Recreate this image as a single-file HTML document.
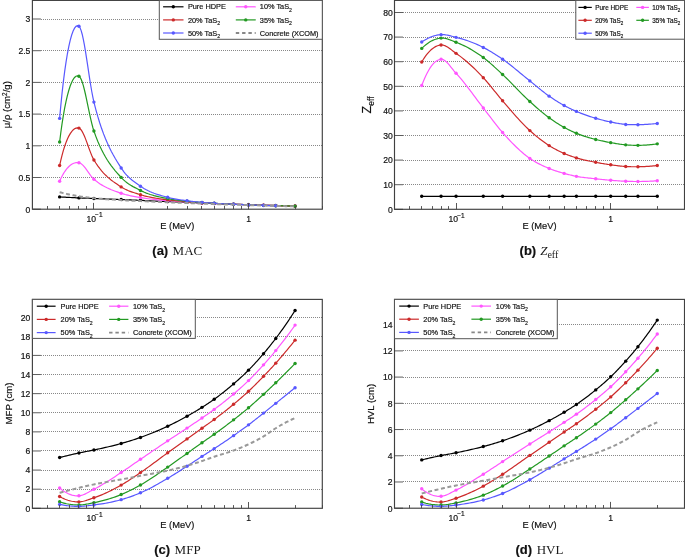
<!DOCTYPE html>
<html><head><meta charset="utf-8"><style>
html,body{margin:0;padding:0;background:#fff;width:685px;height:557px;overflow:hidden}
svg{display:block;will-change:transform}
text{fill:#111;stroke:#111;stroke-width:0.18px}
text.serif{stroke:none;fill:#1a1a1a}
</style></head><body>
<svg width="685" height="557" viewBox="0 0 685 557">
<rect x="0" y="0" width="685" height="557" fill="#fff"/>
<line x1="41.00" y1="177.50" x2="322.30" y2="177.50" stroke="#888" stroke-width="1" stroke-dasharray="1 1"/>
<line x1="41.00" y1="145.50" x2="322.30" y2="145.50" stroke="#888" stroke-width="1" stroke-dasharray="1 1"/>
<line x1="41.00" y1="114.50" x2="322.30" y2="114.50" stroke="#888" stroke-width="1" stroke-dasharray="1 1"/>
<line x1="41.00" y1="82.50" x2="322.30" y2="82.50" stroke="#888" stroke-width="1" stroke-dasharray="1 1"/>
<line x1="41.00" y1="50.50" x2="322.30" y2="50.50" stroke="#888" stroke-width="1" stroke-dasharray="1 1"/>
<line x1="41.00" y1="19.50" x2="322.30" y2="19.50" stroke="#888" stroke-width="1" stroke-dasharray="1 1"/>
<polyline points="59.63,196.90 61.00,196.98 62.38,197.06 63.76,197.14 65.14,197.22 66.52,197.30 67.90,197.37 69.28,197.45 70.66,197.52 72.04,197.59 73.42,197.66 74.80,197.72 76.18,197.79 77.56,197.85 78.94,197.91 80.01,197.96 81.08,198.01 82.15,198.05 83.22,198.09 84.29,198.13 85.36,198.17 86.43,198.21 87.50,198.25 88.57,198.29 89.64,198.33 90.71,198.37 91.78,198.40 92.85,198.44 93.92,198.49 95.87,198.56 97.81,198.64 99.76,198.71 101.70,198.79 103.65,198.86 105.59,198.94 107.54,199.01 109.48,199.09 111.43,199.17 113.37,199.25 115.32,199.32 117.26,199.40 119.21,199.48 121.15,199.56 122.53,199.62 123.91,199.68 125.29,199.74 126.67,199.79 128.05,199.85 129.43,199.91 130.81,199.97 132.19,200.03 133.57,200.09 134.95,200.15 136.33,200.21 137.71,200.27 139.09,200.33 140.47,200.39 142.41,200.47 144.36,200.56 146.30,200.64 148.25,200.73 150.19,200.82 152.13,200.90 154.08,200.99 156.02,201.08 157.97,201.16 159.91,201.25 161.86,201.34 163.80,201.42 165.75,201.51 167.69,201.59 169.07,201.65 170.45,201.71 171.83,201.77 173.21,201.83 174.59,201.89 175.97,201.95 177.35,202.01 178.73,202.07 180.11,202.13 181.49,202.19 182.87,202.24 184.25,202.30 185.63,202.36 187.01,202.42 188.08,202.46 189.15,202.50 190.22,202.55 191.29,202.59 192.36,202.63 193.43,202.68 194.50,202.72 195.57,202.76 196.64,202.80 197.71,202.85 198.78,202.89 199.85,202.93 200.92,202.97 201.99,203.01 202.87,203.05 203.74,203.08 204.61,203.11 205.49,203.15 206.36,203.18 207.24,203.21 208.11,203.25 208.99,203.28 209.86,203.31 210.74,203.34 211.61,203.38 212.48,203.41 213.36,203.44 214.23,203.47 215.61,203.53 216.99,203.58 218.37,203.63 219.75,203.68 221.13,203.73 222.51,203.78 223.89,203.83 225.27,203.88 226.65,203.93 228.03,203.98 229.41,204.03 230.79,204.08 232.17,204.13 233.55,204.18 234.62,204.22 235.69,204.25 236.76,204.29 237.83,204.33 238.90,204.36 239.97,204.40 241.04,204.43 242.11,204.47 243.18,204.50 244.25,204.54 245.32,204.57 246.39,204.61 247.46,204.64 248.53,204.68 249.60,204.71 250.67,204.75 251.74,204.78 252.81,204.82 253.88,204.85 254.95,204.89 256.02,204.92 257.09,204.96 258.16,204.99 259.24,205.03 260.31,205.06 261.38,205.10 262.45,205.13 263.52,205.16 264.39,205.19 265.26,205.21 266.14,205.24 267.01,205.27 267.89,205.29 268.76,205.32 269.64,205.35 270.51,205.37 271.39,205.40 272.26,205.42 273.13,205.45 274.01,205.47 274.88,205.50 275.76,205.52 277.14,205.56 278.52,205.60 279.90,205.64 281.28,205.68 282.66,205.72 284.04,205.75 285.42,205.79 286.80,205.83 288.18,205.86 289.56,205.90 290.94,205.94 292.32,205.97 293.69,206.01 295.07,206.04" fill="none" stroke="#000000" stroke-width="1.2"/>
<circle cx="59.63" cy="196.90" r="1.7" fill="#000000"/>
<circle cx="78.94" cy="197.91" r="1.7" fill="#000000"/>
<circle cx="93.92" cy="198.49" r="1.7" fill="#000000"/>
<circle cx="121.15" cy="199.56" r="1.7" fill="#000000"/>
<circle cx="140.47" cy="200.39" r="1.7" fill="#000000"/>
<circle cx="167.69" cy="201.59" r="1.7" fill="#000000"/>
<circle cx="187.01" cy="202.42" r="1.7" fill="#000000"/>
<circle cx="201.99" cy="203.01" r="1.7" fill="#000000"/>
<circle cx="214.23" cy="203.47" r="1.7" fill="#000000"/>
<circle cx="233.55" cy="204.18" r="1.7" fill="#000000"/>
<circle cx="248.53" cy="204.68" r="1.7" fill="#000000"/>
<circle cx="263.52" cy="205.16" r="1.7" fill="#000000"/>
<circle cx="275.76" cy="205.52" r="1.7" fill="#000000"/>
<circle cx="295.07" cy="206.04" r="1.7" fill="#000000"/>
<polyline points="59.63,181.20 60.87,178.47 62.14,175.95 63.45,173.63 64.78,171.53 66.13,169.64 67.51,167.97 68.90,166.52 70.31,165.29 71.73,164.29 73.16,163.51 74.60,162.97 76.05,162.65 77.49,162.57 78.94,162.73 80.06,163.09 81.15,163.72 82.24,164.58 83.31,165.64 84.38,166.87 85.43,168.21 86.48,169.65 87.54,171.14 88.59,172.65 89.64,174.14 90.70,175.58 91.76,176.93 92.84,178.15 93.92,179.21 95.84,180.82 97.76,182.30 99.69,183.65 101.63,184.88 103.57,186.01 105.51,187.05 107.46,188.00 109.41,188.88 111.36,189.70 113.32,190.46 115.28,191.19 117.23,191.88 119.19,192.56 121.15,193.24 122.53,193.69 123.90,194.11 125.28,194.50 126.66,194.85 128.04,195.19 129.42,195.50 130.80,195.79 132.18,196.06 133.56,196.32 134.94,196.57 136.32,196.82 137.70,197.06 139.09,197.30 140.47,197.55 142.41,197.88 144.35,198.19 146.30,198.48 148.24,198.75 150.19,199.00 152.13,199.23 154.08,199.45 156.02,199.65 157.97,199.85 159.91,200.03 161.86,200.21 163.80,200.39 165.75,200.56 167.69,200.74 169.07,200.86 170.45,200.97 171.83,201.08 173.21,201.19 174.59,201.29 175.97,201.38 177.35,201.48 178.73,201.57 180.11,201.66 181.49,201.74 182.87,201.83 184.25,201.91 185.63,202.00 187.01,202.08 188.08,202.14 189.15,202.21 190.22,202.27 191.29,202.33 192.36,202.39 193.43,202.44 194.50,202.50 195.57,202.56 196.64,202.61 197.71,202.67 198.78,202.72 199.85,202.77 200.92,202.82 201.99,202.88 202.87,202.92 203.74,202.96 204.61,203.00 205.49,203.04 206.36,203.08 207.24,203.12 208.11,203.16 208.99,203.20 209.86,203.24 210.74,203.28 211.61,203.31 212.48,203.35 213.36,203.39 214.23,203.43 215.61,203.49 216.99,203.54 218.37,203.60 219.75,203.66 221.13,203.72 222.51,203.77 223.89,203.83 225.27,203.88 226.65,203.94 228.03,203.99 229.41,204.05 230.79,204.10 232.17,204.15 233.55,204.20 234.62,204.24 235.69,204.28 236.76,204.32 237.83,204.36 238.90,204.40 239.97,204.43 241.04,204.47 242.11,204.51 243.18,204.55 244.25,204.58 245.32,204.62 246.39,204.66 247.46,204.69 248.53,204.73 263.52,205.22 275.76,205.58 277.14,205.62 278.52,205.66 279.90,205.69 281.28,205.73 282.66,205.77 284.04,205.80 285.42,205.84 286.80,205.88 288.18,205.91 289.56,205.95 290.94,205.98 292.32,206.02 293.70,206.05 295.07,206.08" fill="none" stroke="#ff55ff" stroke-width="1.2"/>
<circle cx="59.63" cy="181.20" r="1.7" fill="#ff55ff"/>
<circle cx="78.94" cy="162.73" r="1.7" fill="#ff55ff"/>
<circle cx="93.92" cy="179.21" r="1.7" fill="#ff55ff"/>
<circle cx="121.15" cy="193.24" r="1.7" fill="#ff55ff"/>
<circle cx="140.47" cy="197.55" r="1.7" fill="#ff55ff"/>
<circle cx="167.69" cy="200.74" r="1.7" fill="#ff55ff"/>
<circle cx="187.01" cy="202.08" r="1.7" fill="#ff55ff"/>
<circle cx="201.99" cy="202.88" r="1.7" fill="#ff55ff"/>
<circle cx="214.23" cy="203.43" r="1.7" fill="#ff55ff"/>
<circle cx="233.55" cy="204.20" r="1.7" fill="#ff55ff"/>
<circle cx="248.53" cy="204.73" r="1.7" fill="#ff55ff"/>
<circle cx="263.52" cy="205.22" r="1.7" fill="#ff55ff"/>
<circle cx="275.76" cy="205.58" r="1.7" fill="#ff55ff"/>
<circle cx="295.07" cy="206.08" r="1.7" fill="#ff55ff"/>
<polyline points="59.63,165.50 60.84,160.07 62.09,155.04 63.38,150.42 64.70,146.20 66.04,142.41 67.42,139.04 68.81,136.10 70.23,133.60 71.66,131.54 73.10,129.93 74.55,128.78 76.01,128.09 77.48,127.86 78.94,128.11 80.06,128.78 81.17,129.97 82.25,131.63 83.33,133.67 84.39,136.02 85.44,138.63 86.49,141.41 87.54,144.30 88.59,147.23 89.64,150.12 90.70,152.90 91.76,155.51 92.84,157.88 93.92,159.93 95.84,163.03 97.75,165.88 99.68,168.48 101.61,170.86 103.55,173.05 105.50,175.05 107.45,176.88 109.40,178.58 111.35,180.16 113.31,181.63 115.27,183.02 117.23,184.35 119.19,185.64 121.15,186.91 122.53,187.76 123.90,188.54 125.28,189.25 126.66,189.91 128.04,190.52 129.42,191.08 130.80,191.60 132.18,192.09 133.56,192.55 134.94,193.00 136.32,193.43 137.70,193.85 139.09,194.28 140.47,194.71 142.41,195.29 144.35,195.83 146.30,196.32 148.24,196.77 150.19,197.18 152.13,197.56 154.08,197.90 156.02,198.23 157.97,198.53 159.91,198.82 161.86,199.09 163.80,199.36 165.75,199.62 167.69,199.88 169.07,200.06 170.45,200.23 171.83,200.39 173.21,200.54 174.59,200.68 175.97,200.82 177.35,200.95 178.73,201.07 180.11,201.19 181.49,201.30 182.87,201.41 184.25,201.53 185.63,201.63 187.01,201.74 188.08,201.83 189.15,201.91 190.22,201.99 191.29,202.06 192.36,202.14 193.43,202.21 194.50,202.28 195.57,202.35 196.64,202.42 197.71,202.48 198.78,202.55 199.85,202.61 200.92,202.68 201.99,202.74 202.87,202.79 203.74,202.84 204.61,202.89 205.49,202.94 206.36,202.98 207.24,203.03 208.11,203.07 208.99,203.12 209.86,203.16 210.74,203.21 211.61,203.25 212.48,203.29 213.36,203.33 214.23,203.38 215.61,203.44 216.99,203.51 218.37,203.57 219.75,203.64 221.13,203.70 222.51,203.76 223.89,203.82 225.27,203.88 226.65,203.94 228.03,204.00 229.41,204.06 230.79,204.11 232.17,204.17 233.55,204.23 248.53,204.78 263.52,205.28 275.76,205.64 295.07,206.12" fill="none" stroke="#cc2a2a" stroke-width="1.2"/>
<circle cx="59.63" cy="165.50" r="1.7" fill="#cc2a2a"/>
<circle cx="78.94" cy="128.11" r="1.7" fill="#cc2a2a"/>
<circle cx="93.92" cy="159.93" r="1.7" fill="#cc2a2a"/>
<circle cx="121.15" cy="186.91" r="1.7" fill="#cc2a2a"/>
<circle cx="140.47" cy="194.71" r="1.7" fill="#cc2a2a"/>
<circle cx="167.69" cy="199.88" r="1.7" fill="#cc2a2a"/>
<circle cx="187.01" cy="201.74" r="1.7" fill="#cc2a2a"/>
<circle cx="201.99" cy="202.74" r="1.7" fill="#cc2a2a"/>
<circle cx="214.23" cy="203.38" r="1.7" fill="#cc2a2a"/>
<circle cx="233.55" cy="204.23" r="1.7" fill="#cc2a2a"/>
<circle cx="248.53" cy="204.78" r="1.7" fill="#cc2a2a"/>
<circle cx="263.52" cy="205.28" r="1.7" fill="#cc2a2a"/>
<circle cx="275.76" cy="205.64" r="1.7" fill="#cc2a2a"/>
<circle cx="295.07" cy="206.12" r="1.7" fill="#cc2a2a"/>
<polyline points="59.63,141.96 60.82,132.48 62.06,123.69 63.34,115.60 64.65,108.22 65.99,101.56 67.37,95.64 68.76,90.47 70.18,86.06 71.62,82.42 73.07,79.56 74.53,77.49 76.00,76.24 77.47,75.80 78.94,76.19 80.07,77.31 81.17,79.35 82.26,82.19 83.33,85.70 84.40,89.76 85.45,94.26 86.50,99.06 87.54,104.04 88.59,109.09 89.64,114.08 90.69,118.89 91.76,123.39 92.83,127.47 93.92,131.01 95.83,136.35 97.75,141.24 99.68,145.73 101.61,149.83 103.55,153.59 105.49,157.04 107.44,160.21 109.39,163.13 111.35,165.84 113.31,168.38 115.27,170.77 117.23,173.05 119.19,175.26 121.15,177.42 122.53,178.86 123.90,180.18 125.28,181.39 126.66,182.50 128.04,183.51 129.42,184.45 130.80,185.32 132.18,186.13 133.56,186.90 134.94,187.63 136.32,188.34 137.70,189.04 139.09,189.74 140.47,190.45 142.41,191.41 144.35,192.28 146.30,193.07 148.24,193.79 150.19,194.45 152.13,195.04 154.08,195.59 156.02,196.09 157.97,196.56 159.91,196.99 161.86,197.41 163.80,197.81 165.75,198.20 167.69,198.60 169.07,198.87 170.45,199.12 171.83,199.35 173.21,199.57 174.59,199.78 175.97,199.97 177.35,200.15 178.73,200.32 180.11,200.48 181.49,200.64 182.87,200.79 184.25,200.94 185.63,201.09 187.01,201.24 188.08,201.35 189.15,201.46 190.22,201.57 191.29,201.67 192.36,201.77 193.43,201.86 194.50,201.95 195.57,202.04 196.64,202.13 197.71,202.21 198.78,202.30 199.85,202.38 200.92,202.46 201.99,202.54 202.87,202.60 203.74,202.66 204.61,202.72 205.49,202.78 206.36,202.84 207.24,202.89 208.11,202.94 208.99,203.00 209.86,203.05 210.74,203.10 211.61,203.15 212.48,203.20 213.36,203.25 214.23,203.30 215.61,203.38 216.99,203.46 218.37,203.53 219.75,203.61 221.13,203.68 222.51,203.75 223.89,203.82 225.27,203.88 226.65,203.95 228.03,204.01 229.41,204.08 230.79,204.14 232.17,204.20 233.55,204.26 248.53,204.85 263.52,205.37 275.76,205.72 295.07,206.18" fill="none" stroke="#229922" stroke-width="1.2"/>
<circle cx="59.63" cy="141.96" r="1.7" fill="#229922"/>
<circle cx="78.94" cy="76.19" r="1.7" fill="#229922"/>
<circle cx="93.92" cy="131.01" r="1.7" fill="#229922"/>
<circle cx="121.15" cy="177.42" r="1.7" fill="#229922"/>
<circle cx="140.47" cy="190.45" r="1.7" fill="#229922"/>
<circle cx="167.69" cy="198.60" r="1.7" fill="#229922"/>
<circle cx="187.01" cy="201.24" r="1.7" fill="#229922"/>
<circle cx="201.99" cy="202.54" r="1.7" fill="#229922"/>
<circle cx="214.23" cy="203.30" r="1.7" fill="#229922"/>
<circle cx="233.55" cy="204.26" r="1.7" fill="#229922"/>
<circle cx="248.53" cy="204.85" r="1.7" fill="#229922"/>
<circle cx="263.52" cy="205.37" r="1.7" fill="#229922"/>
<circle cx="275.76" cy="205.72" r="1.7" fill="#229922"/>
<circle cx="295.07" cy="206.18" r="1.7" fill="#229922"/>
<polyline points="59.63,118.41 60.85,105.11 62.10,92.78 63.40,81.44 64.72,71.11 66.07,61.80 67.44,53.52 68.83,46.29 70.25,40.12 71.67,35.03 73.12,31.03 74.57,28.14 76.02,26.36 77.48,25.72 78.94,26.23 80.06,27.76 81.16,30.57 82.24,34.48 83.32,39.33 84.38,44.94 85.44,51.16 86.49,57.80 87.54,64.70 88.59,71.70 89.64,78.61 90.70,85.28 91.76,91.52 92.84,97.18 93.92,102.09 95.84,109.57 97.76,116.45 99.69,122.77 101.62,128.58 103.56,133.91 105.50,138.82 107.45,143.34 109.40,147.52 111.36,151.41 113.31,155.04 115.27,158.47 117.23,161.73 119.19,164.87 121.15,167.93 122.53,169.97 123.90,171.83 125.28,173.53 126.66,175.09 128.04,176.51 129.42,177.83 130.80,179.04 132.18,180.18 133.56,181.25 134.94,182.27 136.32,183.26 137.70,184.23 139.09,185.20 140.47,186.19 142.41,187.52 144.35,188.73 146.30,189.83 148.24,190.82 150.19,191.72 152.13,192.53 154.08,193.28 156.02,193.95 157.97,194.58 159.91,195.17 161.86,195.72 163.80,196.26 165.75,196.79 167.69,197.31 169.07,197.67 170.45,198.01 171.83,198.32 173.21,198.61 174.59,198.87 175.97,199.12 177.35,199.35 178.73,199.57 180.11,199.78 181.49,199.98 182.87,200.17 184.25,200.36 185.63,200.55 187.01,200.74 188.08,200.88 189.15,201.02 190.22,201.15 191.29,201.28 192.36,201.40 193.43,201.51 194.50,201.63 195.57,201.74 196.64,201.84 197.71,201.94 198.78,202.04 199.85,202.14 200.92,202.24 201.99,202.33 202.87,202.41 203.74,202.48 204.61,202.55 205.49,202.62 206.36,202.69 207.24,202.75 208.11,202.82 208.99,202.88 209.86,202.94 210.74,203.00 211.61,203.06 212.48,203.11 213.36,203.17 214.23,203.23 215.61,203.32 216.99,203.41 218.37,203.49 219.75,203.57 221.13,203.65 222.51,203.73 223.89,203.81 225.27,203.88 226.65,203.95 228.03,204.02 229.41,204.09 230.79,204.16 232.17,204.23 233.55,204.30 248.53,204.93 263.52,205.46 275.76,205.80" fill="none" stroke="#5858ff" stroke-width="1.2"/>
<circle cx="59.63" cy="118.41" r="1.7" fill="#5858ff"/>
<circle cx="78.94" cy="26.23" r="1.7" fill="#5858ff"/>
<circle cx="93.92" cy="102.09" r="1.7" fill="#5858ff"/>
<circle cx="121.15" cy="167.93" r="1.7" fill="#5858ff"/>
<circle cx="140.47" cy="186.19" r="1.7" fill="#5858ff"/>
<circle cx="167.69" cy="197.31" r="1.7" fill="#5858ff"/>
<circle cx="187.01" cy="200.74" r="1.7" fill="#5858ff"/>
<circle cx="201.99" cy="202.33" r="1.7" fill="#5858ff"/>
<circle cx="214.23" cy="203.23" r="1.7" fill="#5858ff"/>
<circle cx="233.55" cy="204.30" r="1.7" fill="#5858ff"/>
<circle cx="248.53" cy="204.93" r="1.7" fill="#5858ff"/>
<circle cx="263.52" cy="205.46" r="1.7" fill="#5858ff"/>
<circle cx="275.76" cy="205.80" r="1.7" fill="#5858ff"/>
<polyline points="59.63,192.18 60.99,192.54 62.37,192.89 63.74,193.23 65.11,193.56 66.49,193.88 67.87,194.19 69.25,194.49 70.63,194.78 72.01,195.06 73.39,195.34 74.78,195.60 76.17,195.85 77.55,196.09 78.94,196.32 80.01,196.49 81.08,196.65 82.14,196.80 83.21,196.95 84.28,197.09 85.35,197.22 86.42,197.35 87.49,197.48 88.57,197.60 89.64,197.72 90.71,197.84 91.78,197.95 92.85,198.06 93.92,198.17 95.87,198.37 97.81,198.55 99.75,198.71 101.69,198.87 103.64,199.01 105.58,199.15 107.53,199.27 109.47,199.40 111.42,199.51 113.37,199.62 115.31,199.74 117.26,199.85 119.20,199.96 121.15,200.07 122.53,200.15 123.91,200.23 125.29,200.31 126.67,200.39 128.05,200.46 129.43,200.54 130.81,200.61 132.19,200.68 133.57,200.75 134.95,200.82 136.33,200.89 137.71,200.96 139.09,201.03 140.47,201.09 142.41,201.18 144.36,201.27 146.30,201.36 148.24,201.44 150.19,201.52 152.13,201.60 154.08,201.68 156.02,201.76 157.97,201.84 159.91,201.91 161.86,201.99 163.80,202.06 165.75,202.14 167.69,202.22 169.07,202.28 170.45,202.33 171.83,202.39 173.21,202.45 174.59,202.50 175.97,202.56 177.35,202.61 178.73,202.67 180.11,202.72 181.49,202.78 182.87,202.84 184.25,202.89 185.63,202.95 187.01,203.01 188.08,203.05 189.15,203.09 190.22,203.14 191.29,203.19 192.36,203.23 193.43,203.28 194.50,203.32 195.57,203.37 196.64,203.41 197.71,203.46 198.78,203.50 199.85,203.55 200.92,203.59 201.99,203.63 202.87,203.67 203.74,203.70 204.61,203.74 205.49,203.77 206.36,203.80 207.24,203.84 208.11,203.87 208.99,203.90 209.86,203.94 210.74,203.97 211.61,204.00 212.48,204.03 213.36,204.07 214.23,204.10 215.61,204.14 216.99,204.19 218.37,204.23 219.75,204.27 221.13,204.31 222.51,204.34 223.89,204.38 225.27,204.42 226.65,204.46 228.03,204.49 229.41,204.53 230.79,204.57 232.17,204.60 233.55,204.64 248.53,205.09 263.52,205.53 264.39,205.56 265.27,205.59 266.14,205.62 267.01,205.64 267.89,205.67 268.76,205.70 269.64,205.73 270.51,205.76 271.39,205.78 272.26,205.81 273.13,205.84 274.01,205.86 274.88,205.89 275.76,205.91 277.14,205.95 278.52,205.98 279.90,206.01 281.28,206.04 282.66,206.07 284.04,206.10 285.42,206.13 286.80,206.16 288.18,206.18 289.56,206.20 290.94,206.23 292.32,206.25 293.69,206.27 295.07,206.28" fill="none" stroke="#999" stroke-width="2" stroke-dasharray="4 2.6"/>
<rect x="32.40" y="0.40" width="289.90" height="208.80" fill="none" stroke="#404040" stroke-width="1.15"/>
<line x1="32.40" y1="209.20" x2="40.90" y2="209.20" stroke="#333" stroke-width="0.8"/>
<text x="30.40" y="212.50" text-anchor="end" style="font-family:'Liberation Sans',sans-serif;font-size:8.6px">0</text>
<line x1="32.40" y1="177.50" x2="40.90" y2="177.50" stroke="#333" stroke-width="0.8"/>
<text x="30.40" y="180.80" text-anchor="end" style="font-family:'Liberation Sans',sans-serif;font-size:8.6px">0.5</text>
<line x1="32.40" y1="145.80" x2="40.90" y2="145.80" stroke="#333" stroke-width="0.8"/>
<text x="30.40" y="149.10" text-anchor="end" style="font-family:'Liberation Sans',sans-serif;font-size:8.6px">1</text>
<line x1="32.40" y1="114.10" x2="40.90" y2="114.10" stroke="#333" stroke-width="0.8"/>
<text x="30.40" y="117.40" text-anchor="end" style="font-family:'Liberation Sans',sans-serif;font-size:8.6px">1.5</text>
<line x1="32.40" y1="82.40" x2="40.90" y2="82.40" stroke="#333" stroke-width="0.8"/>
<text x="30.40" y="85.70" text-anchor="end" style="font-family:'Liberation Sans',sans-serif;font-size:8.6px">2</text>
<line x1="32.40" y1="50.70" x2="40.90" y2="50.70" stroke="#333" stroke-width="0.8"/>
<text x="30.40" y="54.00" text-anchor="end" style="font-family:'Liberation Sans',sans-serif;font-size:8.6px">2.5</text>
<line x1="32.40" y1="19.00" x2="40.90" y2="19.00" stroke="#333" stroke-width="0.8"/>
<text x="30.40" y="22.30" text-anchor="end" style="font-family:'Liberation Sans',sans-serif;font-size:8.6px">3</text>
<line x1="32.50" y1="209.20" x2="32.50" y2="206.00" stroke="#444" stroke-width="0.9"/>
<line x1="47.50" y1="209.20" x2="47.50" y2="206.00" stroke="#444" stroke-width="0.9"/>
<line x1="59.50" y1="209.20" x2="59.50" y2="206.00" stroke="#444" stroke-width="0.9"/>
<line x1="69.50" y1="209.20" x2="69.50" y2="206.00" stroke="#444" stroke-width="0.9"/>
<line x1="78.50" y1="209.20" x2="78.50" y2="206.00" stroke="#444" stroke-width="0.9"/>
<line x1="86.50" y1="209.20" x2="86.50" y2="206.00" stroke="#444" stroke-width="0.9"/>
<line x1="93.50" y1="209.20" x2="93.50" y2="202.90" stroke="#444" stroke-width="0.9"/>
<line x1="140.50" y1="209.20" x2="140.50" y2="206.00" stroke="#444" stroke-width="0.9"/>
<line x1="167.50" y1="209.20" x2="167.50" y2="206.00" stroke="#444" stroke-width="0.9"/>
<line x1="187.50" y1="209.20" x2="187.50" y2="206.00" stroke="#444" stroke-width="0.9"/>
<line x1="201.50" y1="209.20" x2="201.50" y2="206.00" stroke="#444" stroke-width="0.9"/>
<line x1="214.50" y1="209.20" x2="214.50" y2="206.00" stroke="#444" stroke-width="0.9"/>
<line x1="224.50" y1="209.20" x2="224.50" y2="206.00" stroke="#444" stroke-width="0.9"/>
<line x1="233.50" y1="209.20" x2="233.50" y2="206.00" stroke="#444" stroke-width="0.9"/>
<line x1="241.50" y1="209.20" x2="241.50" y2="206.00" stroke="#444" stroke-width="0.9"/>
<line x1="248.50" y1="209.20" x2="248.50" y2="202.90" stroke="#444" stroke-width="0.9"/>
<line x1="295.50" y1="209.20" x2="295.50" y2="206.00" stroke="#444" stroke-width="0.9"/>
<line x1="322.50" y1="209.20" x2="322.50" y2="206.00" stroke="#444" stroke-width="0.9"/>
<text x="86.42" y="221.70" style="font-family:'Liberation Sans',sans-serif;font-size:8.6px">10</text>
<text x="95.12" y="217.40" style="font-family:'Liberation Sans',sans-serif;font-size:6.5px">&#8722;1</text>
<text x="248.53" y="221.70" text-anchor="middle" style="font-family:'Liberation Sans',sans-serif;font-size:8.6px">1</text>
<text x="177.35" y="229.00" text-anchor="middle" style="font-family:'Liberation Sans',sans-serif;font-size:9.3px">E (MeV)</text>
<text transform="translate(9.60,104.70) rotate(-90)" text-anchor="middle" style="font-family:'Liberation Sans',sans-serif;font-size:9.60px">&#956;/&#961; (cm<tspan dy="-3" style="font-size:6.5px">2</tspan><tspan dy="3">/g)</tspan></text>
<rect x="159.30" y="0.40" width="163.00" height="38.90" fill="#fff" stroke="#555" stroke-width="1"/>
<line x1="163.10" y1="6.80" x2="183.50" y2="6.80" stroke="#000000" stroke-width="1.2"/>
<circle cx="173.30" cy="6.80" r="1.7" fill="#000000"/>
<text x="187.90" y="9.45" style="font-family:'Liberation Sans',sans-serif;font-size:7.35px">Pure HDPE</text>
<line x1="235.80" y1="6.80" x2="255.70" y2="6.80" stroke="#ff55ff" stroke-width="1.2"/>
<circle cx="245.75" cy="6.80" r="1.7" fill="#ff55ff"/>
<text x="259.80" y="9.45" style="font-family:'Liberation Sans',sans-serif;font-size:7.35px">10% TaS<tspan dy="2.65" style="font-size:5.14px">2</tspan></text>
<line x1="163.10" y1="19.90" x2="183.50" y2="19.90" stroke="#cc2a2a" stroke-width="1.2"/>
<circle cx="173.30" cy="19.90" r="1.7" fill="#cc2a2a"/>
<text x="187.90" y="22.55" style="font-family:'Liberation Sans',sans-serif;font-size:7.35px">20% TaS<tspan dy="2.65" style="font-size:5.14px">2</tspan></text>
<line x1="235.80" y1="19.90" x2="255.70" y2="19.90" stroke="#229922" stroke-width="1.2"/>
<circle cx="245.75" cy="19.90" r="1.7" fill="#229922"/>
<text x="259.80" y="22.55" style="font-family:'Liberation Sans',sans-serif;font-size:7.35px">35% TaS<tspan dy="2.65" style="font-size:5.14px">2</tspan></text>
<line x1="163.10" y1="33.00" x2="183.50" y2="33.00" stroke="#5858ff" stroke-width="1.2"/>
<circle cx="173.30" cy="33.00" r="1.7" fill="#5858ff"/>
<text x="187.90" y="35.65" style="font-family:'Liberation Sans',sans-serif;font-size:7.35px">50% TaS<tspan dy="2.65" style="font-size:5.14px">2</tspan></text>
<line x1="235.80" y1="33.00" x2="255.70" y2="33.00" stroke="#888" stroke-width="1.8" stroke-dasharray="3.4 2.9"/>
<text x="259.80" y="35.65" style="font-family:'Liberation Sans',sans-serif;font-size:7.35px">Concrete (XCOM)</text>
<text x="152.30" y="255.30" style="font-family:'Liberation Sans',sans-serif;font-weight:bold;font-size:13px">(a)</text><text class="serif" x="172.60" y="255.30" style="font-family:'Liberation Serif',serif;font-size:13px">MAC</text>
<line x1="403.00" y1="184.50" x2="684.50" y2="184.50" stroke="#888" stroke-width="1" stroke-dasharray="1 1"/>
<line x1="403.00" y1="160.50" x2="684.50" y2="160.50" stroke="#888" stroke-width="1" stroke-dasharray="1 1"/>
<line x1="403.00" y1="135.50" x2="684.50" y2="135.50" stroke="#888" stroke-width="1" stroke-dasharray="1 1"/>
<line x1="403.00" y1="110.50" x2="684.50" y2="110.50" stroke="#888" stroke-width="1" stroke-dasharray="1 1"/>
<line x1="403.00" y1="86.50" x2="684.50" y2="86.50" stroke="#888" stroke-width="1" stroke-dasharray="1 1"/>
<line x1="403.00" y1="61.50" x2="684.50" y2="61.50" stroke="#888" stroke-width="1" stroke-dasharray="1 1"/>
<line x1="403.00" y1="37.50" x2="684.50" y2="37.50" stroke="#888" stroke-width="1" stroke-dasharray="1 1"/>
<line x1="403.00" y1="12.50" x2="684.50" y2="12.50" stroke="#888" stroke-width="1" stroke-dasharray="1 1"/>
<polyline points="421.73,196.31 441.06,196.31 456.05,196.31 483.28,196.31 502.60,196.31 529.84,196.31 549.16,196.31 564.15,196.31 576.40,196.31 595.72,196.31 610.71,196.31 625.70,196.31 637.94,196.31 657.27,196.31" fill="none" stroke="#000000" stroke-width="1.2"/>
<circle cx="421.73" cy="196.31" r="1.7" fill="#000000"/>
<circle cx="441.06" cy="196.31" r="1.7" fill="#000000"/>
<circle cx="456.05" cy="196.31" r="1.7" fill="#000000"/>
<circle cx="483.28" cy="196.31" r="1.7" fill="#000000"/>
<circle cx="502.60" cy="196.31" r="1.7" fill="#000000"/>
<circle cx="529.84" cy="196.31" r="1.7" fill="#000000"/>
<circle cx="549.16" cy="196.31" r="1.7" fill="#000000"/>
<circle cx="564.15" cy="196.31" r="1.7" fill="#000000"/>
<circle cx="576.40" cy="196.31" r="1.7" fill="#000000"/>
<circle cx="595.72" cy="196.31" r="1.7" fill="#000000"/>
<circle cx="610.71" cy="196.31" r="1.7" fill="#000000"/>
<circle cx="625.70" cy="196.31" r="1.7" fill="#000000"/>
<circle cx="637.94" cy="196.31" r="1.7" fill="#000000"/>
<circle cx="657.27" cy="196.31" r="1.7" fill="#000000"/>
<polyline points="421.73,85.56 423.09,82.03 424.45,78.76 425.81,75.73 427.18,72.96 428.56,70.44 429.94,68.17 431.32,66.16 432.70,64.41 434.09,62.90 435.48,61.66 436.87,60.67 438.27,59.93 439.66,59.46 441.06,59.24 442.13,59.31 443.21,59.64 444.28,60.20 445.35,60.96 446.42,61.89 447.49,62.97 448.56,64.16 449.63,65.43 450.70,66.76 451.77,68.12 452.84,69.48 453.91,70.81 454.98,72.08 456.05,73.26 458.00,75.38 459.94,77.60 461.89,79.92 463.84,82.31 465.78,84.78 467.73,87.30 469.67,89.87 471.62,92.47 473.56,95.08 475.50,97.70 477.45,100.30 479.39,102.89 481.34,105.44 483.28,107.95 484.66,109.72 486.04,111.51 487.42,113.31 488.80,115.13 490.18,116.95 491.56,118.76 492.94,120.57 494.32,122.37 495.70,124.14 497.08,125.90 498.46,127.62 499.84,129.30 501.22,130.95 502.60,132.55 504.55,134.74 506.49,136.89 508.43,139.00 510.38,141.07 512.32,143.08 514.26,145.04 516.21,146.95 518.15,148.79 520.10,150.57 522.05,152.28 523.99,153.92 525.94,155.49 527.89,156.97 529.84,158.38 531.22,159.32 532.60,160.21 533.98,161.06 535.36,161.88 536.74,162.65 538.12,163.40 539.50,164.11 540.88,164.79 542.26,165.45 543.64,166.09 545.02,166.70 546.40,167.30 547.78,167.89 549.16,168.46 550.23,168.90 551.30,169.31 552.37,169.71 553.44,170.10 554.51,170.47 555.58,170.83 556.65,171.17 557.73,171.51 558.80,171.84 559.87,172.16 560.94,172.47 562.01,172.78 563.08,173.08 564.15,173.38 565.02,173.63 565.90,173.87 566.77,174.10 567.65,174.33 568.52,174.55 569.40,174.77 570.27,174.99 571.15,175.20 572.02,175.40 572.90,175.60 573.77,175.79 574.65,175.98 575.52,176.16 576.40,176.34 577.78,176.60 579.16,176.83 580.54,177.05 581.92,177.25 583.30,177.44 584.68,177.61 586.06,177.77 587.44,177.93 588.82,178.07 590.20,178.22 591.58,178.36 592.96,178.50 594.34,178.65 595.72,178.80 596.79,178.91 597.86,179.03 598.93,179.15 600.00,179.26 601.07,179.37 602.14,179.48 603.21,179.59 604.28,179.69 605.35,179.80 606.43,179.90 607.50,180.00 608.57,180.09 609.64,180.18 610.71,180.27 611.78,180.36 612.85,180.44 613.92,180.53 614.99,180.61 616.06,180.69 617.13,180.77 618.20,180.84 619.27,180.91 620.34,180.98 621.41,181.04 622.48,181.10 623.55,181.16 624.63,181.21 625.70,181.26 626.57,181.29 627.45,181.32 628.32,181.35 629.19,181.38 630.07,181.40 630.94,181.43 631.82,181.44 632.69,181.46 633.57,181.48 634.44,181.49 635.32,181.49 636.19,181.50 637.07,181.50 637.94,181.50 639.32,181.50 640.70,181.48 642.08,181.46 643.46,181.43 644.84,181.40 646.22,181.35 647.60,181.31 648.98,181.25 650.36,181.19 651.74,181.12 653.12,181.04 654.51,180.95 655.89,180.86 657.27,180.76" fill="none" stroke="#ff55ff" stroke-width="1.2"/>
<circle cx="421.73" cy="85.56" r="1.7" fill="#ff55ff"/>
<circle cx="441.06" cy="59.24" r="1.7" fill="#ff55ff"/>
<circle cx="456.05" cy="73.26" r="1.7" fill="#ff55ff"/>
<circle cx="483.28" cy="107.95" r="1.7" fill="#ff55ff"/>
<circle cx="502.60" cy="132.55" r="1.7" fill="#ff55ff"/>
<circle cx="529.84" cy="158.38" r="1.7" fill="#ff55ff"/>
<circle cx="549.16" cy="168.46" r="1.7" fill="#ff55ff"/>
<circle cx="564.15" cy="173.38" r="1.7" fill="#ff55ff"/>
<circle cx="576.40" cy="176.34" r="1.7" fill="#ff55ff"/>
<circle cx="595.72" cy="178.80" r="1.7" fill="#ff55ff"/>
<circle cx="610.71" cy="180.27" r="1.7" fill="#ff55ff"/>
<circle cx="625.70" cy="181.26" r="1.7" fill="#ff55ff"/>
<circle cx="637.94" cy="181.50" r="1.7" fill="#ff55ff"/>
<circle cx="657.27" cy="180.76" r="1.7" fill="#ff55ff"/>
<polyline points="421.73,61.95 423.10,59.70 424.48,57.61 425.85,55.68 427.23,53.91 428.60,52.30 429.98,50.85 431.36,49.55 432.75,48.42 434.13,47.45 435.51,46.63 436.90,45.98 438.29,45.48 439.67,45.15 441.06,44.97 442.13,44.98 443.20,45.15 444.27,45.46 445.34,45.89 446.42,46.43 447.49,47.06 448.56,47.76 449.63,48.52 450.70,49.32 451.77,50.14 452.84,50.97 453.91,51.79 454.98,52.58 456.05,53.34 457.99,54.69 459.94,56.11 461.89,57.60 463.84,59.16 465.78,60.77 467.73,62.45 469.67,64.18 471.62,65.97 473.56,67.81 475.51,69.69 477.45,71.63 479.40,73.61 481.34,75.63 483.28,77.69 484.66,79.20 486.04,80.76 487.42,82.36 488.80,83.99 490.18,85.66 491.56,87.35 492.94,89.05 494.32,90.77 495.70,92.48 497.08,94.19 498.46,95.88 499.84,97.55 501.22,99.20 502.60,100.81 504.55,103.06 506.49,105.33 508.44,107.59 510.38,109.85 512.32,112.10 514.27,114.32 516.21,116.53 518.16,118.70 520.10,120.82 522.05,122.90 524.00,124.92 525.94,126.88 527.89,128.77 529.84,130.58 531.22,131.82 532.60,133.04 533.98,134.23 535.36,135.39 536.74,136.53 538.12,137.65 539.50,138.74 540.88,139.80 542.26,140.84 543.64,141.84 545.02,142.82 546.40,143.77 547.78,144.69 549.16,145.59 550.23,146.26 551.30,146.91 552.37,147.54 553.44,148.15 554.51,148.75 555.58,149.33 556.65,149.90 557.72,150.44 558.80,150.98 559.87,151.50 560.94,152.01 562.01,152.50 563.08,152.99 564.15,153.46 565.02,153.83 565.90,154.20 566.77,154.55 567.65,154.89 568.52,155.22 569.40,155.55 570.27,155.86 571.15,156.17 572.02,156.47 572.90,156.76 573.77,157.05 574.65,157.34 575.52,157.61 576.40,157.89 577.78,158.30 579.16,158.70 580.54,159.07 581.92,159.42 583.30,159.76 584.68,160.08 586.06,160.38 587.44,160.68 588.82,160.97 590.20,161.24 591.58,161.52 592.96,161.78 594.34,162.05 595.72,162.31 596.79,162.52 597.86,162.72 598.93,162.91 600.00,163.10 601.07,163.29 602.14,163.47 603.21,163.64 604.28,163.82 605.35,163.98 606.43,164.15 607.50,164.31 608.57,164.47 609.64,164.62 610.71,164.77 611.78,164.92 612.85,165.07 613.92,165.22 614.99,165.37 616.06,165.51 617.13,165.65 618.20,165.78 619.27,165.91 620.34,166.03 621.41,166.14 622.48,166.24 623.55,166.34 624.63,166.42 625.70,166.50 626.57,166.55 627.45,166.59 628.32,166.63 629.19,166.67 630.07,166.69 630.94,166.72 631.82,166.73 632.69,166.75 633.57,166.76 634.44,166.76 635.32,166.76 636.19,166.76 637.07,166.75 637.94,166.74 639.32,166.72 640.70,166.69 642.08,166.65 643.46,166.59 644.84,166.53 646.22,166.46 647.60,166.37 648.98,166.28 650.36,166.18 651.74,166.07 653.12,165.94 654.51,165.81 655.89,165.67 657.27,165.51" fill="none" stroke="#cc2a2a" stroke-width="1.2"/>
<circle cx="421.73" cy="61.95" r="1.7" fill="#cc2a2a"/>
<circle cx="441.06" cy="44.97" r="1.7" fill="#cc2a2a"/>
<circle cx="456.05" cy="53.34" r="1.7" fill="#cc2a2a"/>
<circle cx="483.28" cy="77.69" r="1.7" fill="#cc2a2a"/>
<circle cx="502.60" cy="100.81" r="1.7" fill="#cc2a2a"/>
<circle cx="529.84" cy="130.58" r="1.7" fill="#cc2a2a"/>
<circle cx="549.16" cy="145.59" r="1.7" fill="#cc2a2a"/>
<circle cx="564.15" cy="153.46" r="1.7" fill="#cc2a2a"/>
<circle cx="576.40" cy="157.89" r="1.7" fill="#cc2a2a"/>
<circle cx="595.72" cy="162.31" r="1.7" fill="#cc2a2a"/>
<circle cx="610.71" cy="164.77" r="1.7" fill="#cc2a2a"/>
<circle cx="625.70" cy="166.50" r="1.7" fill="#cc2a2a"/>
<circle cx="637.94" cy="166.74" r="1.7" fill="#cc2a2a"/>
<circle cx="657.27" cy="165.51" r="1.7" fill="#cc2a2a"/>
<polyline points="421.73,48.42 423.11,47.09 424.49,45.86 425.86,44.71 427.24,43.66 428.62,42.69 430.00,41.82 431.38,41.04 432.76,40.34 434.14,39.74 435.53,39.23 436.91,38.81 438.29,38.48 439.67,38.23 441.06,38.08 442.13,38.05 443.20,38.10 444.27,38.22 445.34,38.42 446.41,38.67 447.48,38.98 448.55,39.32 449.62,39.71 450.69,40.12 451.76,40.54 452.84,40.98 453.91,41.42 454.98,41.85 456.05,42.27 457.99,43.03 459.94,43.84 461.89,44.70 463.83,45.61 465.78,46.57 467.73,47.58 469.67,48.65 471.62,49.76 473.56,50.92 475.51,52.14 477.45,53.41 479.39,54.72 481.34,56.10 483.28,57.52 484.66,58.57 486.04,59.66 487.42,60.79 488.81,61.94 490.19,63.13 491.57,64.34 492.95,65.57 494.33,66.82 495.71,68.09 497.09,69.36 498.47,70.64 499.84,71.93 501.22,73.21 502.60,74.49 504.55,76.32 506.50,78.21 508.44,80.14 510.39,82.10 512.33,84.09 514.28,86.09 516.22,88.10 518.16,90.10 520.11,92.10 522.05,94.07 524.00,96.01 525.95,97.91 527.89,99.76 529.84,101.55 531.22,102.80 532.60,104.04 533.98,105.27 535.36,106.49 536.74,107.71 538.12,108.91 539.50,110.09 540.88,111.26 542.26,112.41 543.64,113.54 545.02,114.64 546.40,115.72 547.78,116.77 549.16,117.79 550.23,118.56 551.30,119.32 552.37,120.06 553.44,120.79 554.51,121.51 555.58,122.22 556.65,122.91 557.72,123.59 558.79,124.25 559.87,124.91 560.94,125.54 562.01,126.17 563.08,126.78 564.15,127.38 565.02,127.86 565.90,128.33 566.77,128.79 567.65,129.24 568.52,129.68 569.40,130.12 570.27,130.54 571.15,130.96 572.02,131.36 572.90,131.76 573.77,132.15 574.65,132.54 575.52,132.92 576.40,133.29 577.78,133.85 579.16,134.39 580.54,134.90 581.92,135.39 583.30,135.86 584.68,136.31 586.06,136.75 587.44,137.16 588.82,137.57 590.20,137.96 591.58,138.34 592.96,138.71 594.34,139.08 595.72,139.44 596.79,139.71 597.86,139.97 598.93,140.23 600.00,140.48 601.07,140.72 602.14,140.95 603.21,141.18 604.28,141.40 605.35,141.62 606.43,141.83 607.50,142.04 608.57,142.24 609.64,142.44 610.71,142.63 611.78,142.83 612.85,143.02 613.92,143.21 614.99,143.39 616.06,143.57 617.13,143.74 618.20,143.91 619.27,144.07 620.34,144.23 621.41,144.37 622.48,144.51 623.55,144.63 624.63,144.75 625.70,144.85 626.57,144.92 627.45,144.99 628.32,145.05 629.19,145.11 630.07,145.16 630.94,145.20 631.82,145.24 632.69,145.27 633.57,145.29 634.44,145.31 635.32,145.33 636.19,145.34 637.07,145.34 637.94,145.34 639.32,145.33 640.70,145.30 642.08,145.26 643.46,145.20 644.84,145.13 646.22,145.05 647.60,144.95 648.98,144.83 650.36,144.71 651.74,144.57 653.13,144.41 654.51,144.24 655.89,144.06 657.27,143.86" fill="none" stroke="#229922" stroke-width="1.2"/>
<circle cx="421.73" cy="48.42" r="1.7" fill="#229922"/>
<circle cx="441.06" cy="38.08" r="1.7" fill="#229922"/>
<circle cx="456.05" cy="42.27" r="1.7" fill="#229922"/>
<circle cx="483.28" cy="57.52" r="1.7" fill="#229922"/>
<circle cx="502.60" cy="74.49" r="1.7" fill="#229922"/>
<circle cx="529.84" cy="101.55" r="1.7" fill="#229922"/>
<circle cx="549.16" cy="117.79" r="1.7" fill="#229922"/>
<circle cx="564.15" cy="127.38" r="1.7" fill="#229922"/>
<circle cx="576.40" cy="133.29" r="1.7" fill="#229922"/>
<circle cx="595.72" cy="139.44" r="1.7" fill="#229922"/>
<circle cx="610.71" cy="142.63" r="1.7" fill="#229922"/>
<circle cx="625.70" cy="144.85" r="1.7" fill="#229922"/>
<circle cx="637.94" cy="145.34" r="1.7" fill="#229922"/>
<circle cx="657.27" cy="143.86" r="1.7" fill="#229922"/>
<polyline points="421.73,42.02 423.11,41.09 424.49,40.22 425.87,39.41 427.25,38.66 428.63,37.98 430.01,37.36 431.39,36.80 432.77,36.30 434.15,35.87 435.53,35.50 436.91,35.19 438.29,34.94 439.68,34.76 441.06,34.64 442.13,34.60 443.20,34.62 444.27,34.70 445.34,34.82 446.41,34.98 447.48,35.18 448.55,35.41 449.62,35.66 450.69,35.93 451.76,36.21 452.83,36.50 453.91,36.79 454.98,37.07 456.05,37.35 457.99,37.84 459.94,38.37 461.89,38.93 463.83,39.52 465.78,40.14 467.72,40.80 469.67,41.50 471.61,42.23 473.56,42.99 475.50,43.80 477.45,44.65 479.39,45.53 481.34,46.46 483.28,47.43 484.66,48.15 486.04,48.89 487.42,49.65 488.81,50.44 490.19,51.25 491.57,52.07 492.95,52.91 494.33,53.77 495.71,54.65 497.09,55.54 498.47,56.45 499.85,57.37 501.22,58.30 502.60,59.24 504.55,60.61 506.50,62.03 508.44,63.50 510.39,65.01 512.34,66.55 514.28,68.12 516.23,69.71 518.17,71.32 520.11,72.93 522.06,74.55 524.00,76.16 525.95,77.75 527.89,79.33 529.84,80.89 531.22,81.99 532.60,83.10 533.98,84.23 535.36,85.36 536.74,86.49 538.12,87.62 539.50,88.74 540.88,89.86 542.26,90.96 543.64,92.05 545.02,93.11 546.40,94.15 547.78,95.16 549.16,96.14 550.23,96.88 551.30,97.61 552.37,98.33 553.44,99.04 554.51,99.73 555.58,100.42 556.65,101.09 557.72,101.76 558.79,102.41 559.87,103.05 560.94,103.68 562.01,104.29 563.08,104.90 564.15,105.49 565.02,105.96 565.90,106.42 566.77,106.88 567.65,107.32 568.52,107.76 569.40,108.19 570.27,108.61 571.15,109.03 572.02,109.43 572.90,109.84 573.77,110.23 574.65,110.62 575.52,111.01 576.40,111.39 577.78,111.98 579.16,112.55 580.54,113.11 581.92,113.65 583.30,114.17 584.68,114.68 586.06,115.17 587.44,115.65 588.82,116.12 590.20,116.57 591.58,117.02 592.96,117.45 594.34,117.87 595.72,118.28 596.79,118.59 597.86,118.89 598.93,119.19 600.00,119.48 601.07,119.75 602.14,120.03 603.21,120.29 604.28,120.55 605.35,120.80 606.42,121.05 607.50,121.29 608.57,121.52 609.64,121.75 610.71,121.97 611.78,122.19 612.85,122.41 613.92,122.62 614.99,122.83 616.06,123.04 617.13,123.23 618.20,123.43 619.27,123.61 620.34,123.78 621.41,123.94 622.48,124.08 623.55,124.21 624.63,124.33 625.70,124.43 626.57,124.50 627.45,124.56 628.32,124.60 629.19,124.64 630.07,124.67 630.94,124.69 631.82,124.70 632.69,124.71 633.57,124.71 634.44,124.71 635.32,124.70 636.19,124.70 637.07,124.69 637.94,124.68 639.32,124.65 640.70,124.62 642.08,124.58 643.46,124.53 644.84,124.46 646.22,124.39 647.60,124.31 648.98,124.22 650.36,124.11 651.74,124.00 653.12,123.88 654.51,123.74 655.89,123.60 657.27,123.45" fill="none" stroke="#5858ff" stroke-width="1.2"/>
<circle cx="421.73" cy="42.02" r="1.7" fill="#5858ff"/>
<circle cx="441.06" cy="34.64" r="1.7" fill="#5858ff"/>
<circle cx="456.05" cy="37.35" r="1.7" fill="#5858ff"/>
<circle cx="483.28" cy="47.43" r="1.7" fill="#5858ff"/>
<circle cx="502.60" cy="59.24" r="1.7" fill="#5858ff"/>
<circle cx="529.84" cy="80.89" r="1.7" fill="#5858ff"/>
<circle cx="549.16" cy="96.14" r="1.7" fill="#5858ff"/>
<circle cx="564.15" cy="105.49" r="1.7" fill="#5858ff"/>
<circle cx="576.40" cy="111.39" r="1.7" fill="#5858ff"/>
<circle cx="595.72" cy="118.28" r="1.7" fill="#5858ff"/>
<circle cx="610.71" cy="121.97" r="1.7" fill="#5858ff"/>
<circle cx="625.70" cy="124.43" r="1.7" fill="#5858ff"/>
<circle cx="637.94" cy="124.68" r="1.7" fill="#5858ff"/>
<circle cx="657.27" cy="123.45" r="1.7" fill="#5858ff"/>
<rect x="394.50" y="0.40" width="290.00" height="208.90" fill="none" stroke="#404040" stroke-width="1.15"/>
<line x1="394.50" y1="209.30" x2="403.00" y2="209.30" stroke="#333" stroke-width="0.8"/>
<text x="392.90" y="212.60" text-anchor="end" style="font-family:'Liberation Sans',sans-serif;font-size:8.6px">0</text>
<line x1="394.50" y1="184.70" x2="403.00" y2="184.70" stroke="#333" stroke-width="0.8"/>
<text x="392.90" y="188.00" text-anchor="end" style="font-family:'Liberation Sans',sans-serif;font-size:8.6px">10</text>
<line x1="394.50" y1="160.10" x2="403.00" y2="160.10" stroke="#333" stroke-width="0.8"/>
<text x="392.90" y="163.40" text-anchor="end" style="font-family:'Liberation Sans',sans-serif;font-size:8.6px">20</text>
<line x1="394.50" y1="135.50" x2="403.00" y2="135.50" stroke="#333" stroke-width="0.8"/>
<text x="392.90" y="138.80" text-anchor="end" style="font-family:'Liberation Sans',sans-serif;font-size:8.6px">30</text>
<line x1="394.50" y1="110.90" x2="403.00" y2="110.90" stroke="#333" stroke-width="0.8"/>
<text x="392.90" y="114.20" text-anchor="end" style="font-family:'Liberation Sans',sans-serif;font-size:8.6px">40</text>
<line x1="394.50" y1="86.30" x2="403.00" y2="86.30" stroke="#333" stroke-width="0.8"/>
<text x="392.90" y="89.60" text-anchor="end" style="font-family:'Liberation Sans',sans-serif;font-size:8.6px">50</text>
<line x1="394.50" y1="61.70" x2="403.00" y2="61.70" stroke="#333" stroke-width="0.8"/>
<text x="392.90" y="65.00" text-anchor="end" style="font-family:'Liberation Sans',sans-serif;font-size:8.6px">60</text>
<line x1="394.50" y1="37.10" x2="403.00" y2="37.10" stroke="#333" stroke-width="0.8"/>
<text x="392.90" y="40.40" text-anchor="end" style="font-family:'Liberation Sans',sans-serif;font-size:8.6px">70</text>
<line x1="394.50" y1="12.50" x2="403.00" y2="12.50" stroke="#333" stroke-width="0.8"/>
<text x="392.90" y="15.80" text-anchor="end" style="font-family:'Liberation Sans',sans-serif;font-size:8.6px">80</text>
<line x1="394.50" y1="209.30" x2="394.50" y2="206.10" stroke="#444" stroke-width="0.9"/>
<line x1="409.50" y1="209.30" x2="409.50" y2="206.10" stroke="#444" stroke-width="0.9"/>
<line x1="421.50" y1="209.30" x2="421.50" y2="206.10" stroke="#444" stroke-width="0.9"/>
<line x1="432.50" y1="209.30" x2="432.50" y2="206.10" stroke="#444" stroke-width="0.9"/>
<line x1="441.50" y1="209.30" x2="441.50" y2="206.10" stroke="#444" stroke-width="0.9"/>
<line x1="448.50" y1="209.30" x2="448.50" y2="206.10" stroke="#444" stroke-width="0.9"/>
<line x1="456.50" y1="209.30" x2="456.50" y2="203.00" stroke="#444" stroke-width="0.9"/>
<line x1="502.50" y1="209.30" x2="502.50" y2="206.10" stroke="#444" stroke-width="0.9"/>
<line x1="529.50" y1="209.30" x2="529.50" y2="206.10" stroke="#444" stroke-width="0.9"/>
<line x1="549.50" y1="209.30" x2="549.50" y2="206.10" stroke="#444" stroke-width="0.9"/>
<line x1="564.50" y1="209.30" x2="564.50" y2="206.10" stroke="#444" stroke-width="0.9"/>
<line x1="576.50" y1="209.30" x2="576.50" y2="206.10" stroke="#444" stroke-width="0.9"/>
<line x1="586.50" y1="209.30" x2="586.50" y2="206.10" stroke="#444" stroke-width="0.9"/>
<line x1="595.50" y1="209.30" x2="595.50" y2="206.10" stroke="#444" stroke-width="0.9"/>
<line x1="603.50" y1="209.30" x2="603.50" y2="206.10" stroke="#444" stroke-width="0.9"/>
<line x1="610.50" y1="209.30" x2="610.50" y2="203.00" stroke="#444" stroke-width="0.9"/>
<line x1="657.50" y1="209.30" x2="657.50" y2="206.10" stroke="#444" stroke-width="0.9"/>
<line x1="684.50" y1="209.30" x2="684.50" y2="206.10" stroke="#444" stroke-width="0.9"/>
<text x="448.55" y="221.80" style="font-family:'Liberation Sans',sans-serif;font-size:8.6px">10</text>
<text x="457.25" y="217.50" style="font-family:'Liberation Sans',sans-serif;font-size:6.5px">&#8722;1</text>
<text x="610.71" y="221.80" text-anchor="middle" style="font-family:'Liberation Sans',sans-serif;font-size:8.6px">1</text>
<text x="539.50" y="229.10" text-anchor="middle" style="font-family:'Liberation Sans',sans-serif;font-size:9.3px">E (MeV)</text>
<text transform="translate(371.00,105.00) rotate(-90)" text-anchor="middle" style="font-family:'Liberation Sans',sans-serif;font-size:12.60px">Z<tspan dy="3" style="font-size:8.5px">eff</tspan></text>
<rect x="575.80" y="0.40" width="108.70" height="38.80" fill="#fff" stroke="#555" stroke-width="1"/>
<line x1="578.40" y1="7.40" x2="591.80" y2="7.40" stroke="#000000" stroke-width="1.2"/>
<circle cx="585.10" cy="7.40" r="1.7" fill="#000000"/>
<text x="595.20" y="9.70" style="font-family:'Liberation Sans',sans-serif;font-size:6.40px">Pure HDPE</text>
<line x1="636.30" y1="7.40" x2="648.90" y2="7.40" stroke="#ff55ff" stroke-width="1.2"/>
<circle cx="642.60" cy="7.40" r="1.7" fill="#ff55ff"/>
<text x="652.30" y="9.70" style="font-family:'Liberation Sans',sans-serif;font-size:6.40px">10% TaS<tspan dy="2.30" style="font-size:4.48px">2</tspan></text>
<line x1="578.40" y1="20.30" x2="591.80" y2="20.30" stroke="#cc2a2a" stroke-width="1.2"/>
<circle cx="585.10" cy="20.30" r="1.7" fill="#cc2a2a"/>
<text x="595.20" y="22.60" style="font-family:'Liberation Sans',sans-serif;font-size:6.40px">20% TaS<tspan dy="2.30" style="font-size:4.48px">2</tspan></text>
<line x1="636.30" y1="20.30" x2="648.90" y2="20.30" stroke="#229922" stroke-width="1.2"/>
<circle cx="642.60" cy="20.30" r="1.7" fill="#229922"/>
<text x="652.30" y="22.60" style="font-family:'Liberation Sans',sans-serif;font-size:6.40px">35% TaS<tspan dy="2.30" style="font-size:4.48px">2</tspan></text>
<line x1="578.40" y1="33.20" x2="591.80" y2="33.20" stroke="#5858ff" stroke-width="1.2"/>
<circle cx="585.10" cy="33.20" r="1.7" fill="#5858ff"/>
<text x="595.20" y="35.50" style="font-family:'Liberation Sans',sans-serif;font-size:6.40px">50% TaS<tspan dy="2.30" style="font-size:4.48px">2</tspan></text>
<text x="519.60" y="255.30" style="font-family:'Liberation Sans',sans-serif;font-weight:bold;font-size:13px">(b)</text><text class="serif" x="540.20" y="255.30" style="font-family:'Liberation Serif',serif;font-size:13px"><tspan style="font-style:italic">Z</tspan><tspan dy="2.5" style="font-size:10px">eff</tspan></text>
<line x1="41.00" y1="489.50" x2="322.30" y2="489.50" stroke="#888" stroke-width="1" stroke-dasharray="1 1"/>
<line x1="41.00" y1="470.50" x2="322.30" y2="470.50" stroke="#888" stroke-width="1" stroke-dasharray="1 1"/>
<line x1="41.00" y1="450.50" x2="322.30" y2="450.50" stroke="#888" stroke-width="1" stroke-dasharray="1 1"/>
<line x1="41.00" y1="431.50" x2="322.30" y2="431.50" stroke="#888" stroke-width="1" stroke-dasharray="1 1"/>
<line x1="41.00" y1="412.50" x2="322.30" y2="412.50" stroke="#888" stroke-width="1" stroke-dasharray="1 1"/>
<line x1="41.00" y1="393.50" x2="322.30" y2="393.50" stroke="#888" stroke-width="1" stroke-dasharray="1 1"/>
<line x1="41.00" y1="374.50" x2="322.30" y2="374.50" stroke="#888" stroke-width="1" stroke-dasharray="1 1"/>
<line x1="41.00" y1="355.50" x2="322.30" y2="355.50" stroke="#888" stroke-width="1" stroke-dasharray="1 1"/>
<line x1="41.00" y1="336.50" x2="322.30" y2="336.50" stroke="#888" stroke-width="1" stroke-dasharray="1 1"/>
<line x1="41.00" y1="317.50" x2="322.30" y2="317.50" stroke="#888" stroke-width="1" stroke-dasharray="1 1"/>
<polyline points="59.63,457.52 61.00,457.17 62.38,456.82 63.76,456.47 65.14,456.13 66.52,455.80 67.90,455.46 69.28,455.13 70.66,454.81 72.04,454.49 73.42,454.18 74.80,453.87 76.18,453.56 77.56,453.26 78.94,452.96 80.01,452.73 81.08,452.52 82.15,452.30 83.22,452.09 84.29,451.89 85.36,451.68 86.43,451.48 87.50,451.28 88.57,451.08 89.64,450.87 90.71,450.67 91.78,450.45 92.85,450.24 93.92,450.01 95.87,449.60 97.81,449.18 99.76,448.76 101.70,448.33 103.65,447.89 105.59,447.45 107.54,447.00 109.48,446.53 111.43,446.06 113.37,445.57 115.32,445.07 117.26,444.56 119.21,444.04 121.15,443.49 122.53,443.10 123.91,442.70 125.29,442.30 126.67,441.90 128.05,441.48 129.43,441.06 130.81,440.64 132.19,440.20 133.57,439.76 134.95,439.31 136.33,438.86 137.71,438.39 139.09,437.92 140.47,437.43 142.41,436.74 144.36,436.02 146.30,435.30 148.25,434.55 150.19,433.79 152.14,433.02 154.08,432.23 156.02,431.42 157.97,430.59 159.91,429.75 161.86,428.89 163.80,428.02 165.75,427.12 167.69,426.21 169.07,425.56 170.45,424.89 171.83,424.22 173.21,423.53 174.59,422.84 175.97,422.14 177.35,421.43 178.73,420.72 180.11,419.99 181.49,419.26 182.87,418.51 184.25,417.76 185.63,417.01 187.01,416.24 188.08,415.64 189.15,415.03 190.22,414.43 191.29,413.81 192.36,413.20 193.43,412.57 194.50,411.94 195.57,411.31 196.64,410.67 197.71,410.02 198.78,409.37 199.85,408.71 200.92,408.05 201.99,407.37 202.87,406.82 203.74,406.26 204.61,405.70 205.49,405.14 206.36,404.57 207.24,404.00 208.11,403.42 208.99,402.84 209.86,402.25 210.74,401.65 211.61,401.05 212.48,400.45 213.36,399.83 214.23,399.21 215.61,398.22 216.99,397.21 218.37,396.18 219.75,395.14 221.13,394.08 222.51,393.01 223.89,391.93 225.27,390.83 226.65,389.71 228.03,388.58 229.41,387.44 230.79,386.28 232.17,385.11 233.55,383.92 234.62,383.00 235.69,382.07 236.76,381.13 237.83,380.19 238.90,379.24 239.97,378.28 241.04,377.31 242.11,376.33 243.18,375.33 244.25,374.33 245.32,373.30 246.39,372.27 247.46,371.22 248.53,370.14 249.60,369.05 250.67,367.95 251.75,366.83 252.82,365.70 253.89,364.55 254.96,363.39 256.03,362.21 257.10,361.03 258.17,359.83 259.24,358.62 260.31,357.39 261.38,356.16 262.45,354.92 263.52,353.66 264.39,352.63 265.27,351.59 266.14,350.54 267.02,349.49 267.89,348.43 268.76,347.36 269.64,346.28 270.51,345.19 271.39,344.10 272.26,342.99 273.14,341.88 274.01,340.75 274.88,339.61 275.76,338.46 277.14,336.63 278.52,334.76 279.90,332.88 281.28,330.97 282.66,329.03 284.04,327.07 285.42,325.08 286.80,323.07 288.18,321.04 289.56,318.98 290.94,316.90 292.32,314.79 293.70,312.66 295.07,310.50" fill="none" stroke="#000000" stroke-width="1.2"/>
<circle cx="59.63" cy="457.52" r="1.7" fill="#000000"/>
<circle cx="78.94" cy="452.96" r="1.7" fill="#000000"/>
<circle cx="93.92" cy="450.01" r="1.7" fill="#000000"/>
<circle cx="121.15" cy="443.49" r="1.7" fill="#000000"/>
<circle cx="140.47" cy="437.43" r="1.7" fill="#000000"/>
<circle cx="167.69" cy="426.21" r="1.7" fill="#000000"/>
<circle cx="187.01" cy="416.24" r="1.7" fill="#000000"/>
<circle cx="201.99" cy="407.37" r="1.7" fill="#000000"/>
<circle cx="214.23" cy="399.21" r="1.7" fill="#000000"/>
<circle cx="233.55" cy="383.92" r="1.7" fill="#000000"/>
<circle cx="248.53" cy="370.14" r="1.7" fill="#000000"/>
<circle cx="263.52" cy="353.66" r="1.7" fill="#000000"/>
<circle cx="275.76" cy="338.46" r="1.7" fill="#000000"/>
<circle cx="295.07" cy="310.50" r="1.7" fill="#000000"/>
<polyline points="59.63,487.91 61.00,489.08 62.38,490.15 63.76,491.14 65.14,492.03 66.52,492.83 67.90,493.53 69.28,494.14 70.66,494.65 72.04,495.08 73.42,495.41 74.80,495.64 76.18,495.78 77.56,495.83 78.94,495.79 80.01,495.66 81.08,495.45 82.15,495.15 83.22,494.78 84.29,494.35 85.36,493.86 86.43,493.33 87.50,492.77 88.57,492.19 89.64,491.59 90.71,490.99 91.78,490.39 92.85,489.82 93.92,489.26 95.87,488.27 97.82,487.22 99.76,486.14 101.70,485.01 103.65,483.85 105.59,482.65 107.54,481.43 109.48,480.19 111.43,478.93 113.37,477.66 115.32,476.38 117.26,475.10 119.21,473.81 121.15,472.53 122.53,471.62 123.91,470.70 125.29,469.77 126.67,468.83 128.05,467.89 129.43,466.94 130.81,465.98 132.19,465.03 133.57,464.07 134.95,463.11 136.33,462.15 137.71,461.20 139.09,460.25 140.47,459.30 142.41,457.98 144.36,456.65 146.30,455.32 148.25,453.99 150.19,452.67 152.13,451.34 154.08,450.02 156.02,448.70 157.97,447.38 159.91,446.07 161.86,444.75 163.80,443.45 165.75,442.14 167.69,440.84 169.07,439.92 170.45,439.01 171.83,438.10 173.21,437.19 174.59,436.28 175.97,435.38 177.35,434.48 178.73,433.57 180.11,432.67 181.49,431.76 182.87,430.85 184.25,429.94 185.63,429.03 187.01,428.11 188.08,427.39 189.15,426.68 190.22,425.96 191.29,425.25 192.36,424.53 193.43,423.82 194.50,423.10 195.57,422.38 196.64,421.66 197.71,420.93 198.78,420.21 199.85,419.48 200.92,418.74 201.99,418.01 202.87,417.41 203.74,416.80 204.61,416.20 205.49,415.60 206.36,415.00 207.24,414.39 208.11,413.78 208.99,413.17 209.86,412.56 210.74,411.94 211.61,411.32 212.48,410.69 213.36,410.05 214.23,409.41 215.61,408.39 216.99,407.35 218.37,406.31 219.75,405.25 221.13,404.18 222.51,403.10 223.89,402.01 225.27,400.91 226.65,399.80 228.03,398.67 229.41,397.54 230.79,396.39 232.17,395.23 233.55,394.06 234.62,393.14 235.69,392.22 236.76,391.30 237.83,390.37 238.90,389.44 239.97,388.50 241.04,387.55 242.11,386.59 243.18,385.62 244.25,384.63 245.32,383.64 246.39,382.63 247.46,381.61 248.53,380.58 249.60,379.53 250.67,378.46 251.74,377.39 252.82,376.30 253.89,375.19 254.96,374.08 256.03,372.96 257.10,371.82 258.17,370.68 259.24,369.53 260.31,368.36 261.38,367.19 262.45,366.02 263.52,364.83 264.39,363.85 265.27,362.87 266.14,361.89 267.01,360.90 267.89,359.90 268.76,358.90 269.64,357.89 270.51,356.87 271.39,355.85 272.26,354.82 273.14,353.78 274.01,352.73 274.88,351.67 275.76,350.61 277.14,348.91 278.52,347.20 279.90,345.46 281.28,343.70 282.66,341.93 284.04,340.14 285.42,338.33 286.80,336.49 288.18,334.64 289.56,332.78 290.94,330.89 292.32,328.98 293.70,327.05 295.07,325.11" fill="none" stroke="#ff55ff" stroke-width="1.2"/>
<circle cx="59.63" cy="487.91" r="1.7" fill="#ff55ff"/>
<circle cx="78.94" cy="495.79" r="1.7" fill="#ff55ff"/>
<circle cx="93.92" cy="489.26" r="1.7" fill="#ff55ff"/>
<circle cx="121.15" cy="472.53" r="1.7" fill="#ff55ff"/>
<circle cx="140.47" cy="459.30" r="1.7" fill="#ff55ff"/>
<circle cx="167.69" cy="440.84" r="1.7" fill="#ff55ff"/>
<circle cx="187.01" cy="428.11" r="1.7" fill="#ff55ff"/>
<circle cx="201.99" cy="418.01" r="1.7" fill="#ff55ff"/>
<circle cx="214.23" cy="409.41" r="1.7" fill="#ff55ff"/>
<circle cx="233.55" cy="394.06" r="1.7" fill="#ff55ff"/>
<circle cx="248.53" cy="380.58" r="1.7" fill="#ff55ff"/>
<circle cx="263.52" cy="364.83" r="1.7" fill="#ff55ff"/>
<circle cx="275.76" cy="350.61" r="1.7" fill="#ff55ff"/>
<circle cx="295.07" cy="325.11" r="1.7" fill="#ff55ff"/>
<polyline points="59.63,496.46 61.00,497.24 62.38,497.96 63.76,498.61 65.14,499.21 66.52,499.74 67.90,500.22 69.28,500.63 70.66,500.99 72.04,501.28 73.42,501.51 74.80,501.68 76.18,501.79 77.56,501.84 78.94,501.83 80.01,501.77 81.08,501.65 82.15,501.48 83.22,501.26 84.29,501.01 85.36,500.71 86.43,500.39 87.50,500.05 88.57,499.69 89.64,499.31 90.71,498.93 91.78,498.55 92.85,498.17 93.92,497.80 95.87,497.12 97.82,496.40 99.76,495.64 101.71,494.84 103.65,494.01 105.59,493.14 107.54,492.24 109.48,491.30 111.43,490.34 113.37,489.34 115.32,488.32 117.26,487.27 119.21,486.19 121.15,485.09 122.53,484.29 123.91,483.47 125.29,482.63 126.67,481.77 128.05,480.90 129.43,480.01 130.81,479.11 132.19,478.20 133.57,477.28 134.95,476.35 136.33,475.42 137.71,474.48 139.09,473.54 140.47,472.61 142.41,471.27 144.36,469.91 146.30,468.53 148.25,467.12 150.19,465.71 152.14,464.28 154.08,462.84 156.02,461.40 157.97,459.95 159.91,458.51 161.86,457.06 163.80,455.63 165.75,454.20 167.69,452.79 187.01,438.91 201.99,428.21 202.87,427.59 203.74,426.96 204.61,426.34 205.49,425.73 206.36,425.11 207.24,424.49 208.11,423.87 208.99,423.25 209.86,422.63 210.74,422.00 211.61,421.37 212.48,420.74 213.36,420.10 214.23,419.45 215.61,418.43 216.99,417.39 218.37,416.35 219.75,415.30 221.13,414.24 222.51,413.17 223.89,412.10 225.27,411.01 226.65,409.92 228.03,408.81 229.41,407.70 230.79,406.58 232.17,405.45 233.55,404.30 234.62,403.41 235.69,402.51 236.76,401.62 237.83,400.71 238.90,399.80 239.97,398.89 241.04,397.97 242.11,397.04 243.18,396.10 244.25,395.16 245.32,394.20 246.39,393.24 247.46,392.26 248.53,391.26 249.60,390.26 250.67,389.24 251.74,388.22 252.81,387.18 253.89,386.13 254.96,385.07 256.03,384.01 257.10,382.94 258.17,381.85 259.24,380.77 260.31,379.67 261.38,378.57 262.45,377.46 263.52,376.35 264.39,375.44 265.27,374.52 266.14,373.60 267.01,372.68 267.89,371.75 268.76,370.82 269.64,369.88 270.51,368.94 271.39,367.99 272.26,367.04 273.14,366.08 274.01,365.11 274.88,364.14 275.76,363.16 277.14,361.61 278.52,360.04 279.90,358.45 281.28,356.86 282.66,355.25 284.04,353.62 285.42,351.98 286.80,350.33 288.18,348.66 289.56,346.98 290.94,345.29 292.32,343.58 293.70,341.86 295.07,340.13" fill="none" stroke="#cc2a2a" stroke-width="1.2"/>
<circle cx="59.63" cy="496.46" r="1.7" fill="#cc2a2a"/>
<circle cx="78.94" cy="501.83" r="1.7" fill="#cc2a2a"/>
<circle cx="93.92" cy="497.80" r="1.7" fill="#cc2a2a"/>
<circle cx="121.15" cy="485.09" r="1.7" fill="#cc2a2a"/>
<circle cx="140.47" cy="472.61" r="1.7" fill="#cc2a2a"/>
<circle cx="167.69" cy="452.79" r="1.7" fill="#cc2a2a"/>
<circle cx="187.01" cy="438.91" r="1.7" fill="#cc2a2a"/>
<circle cx="201.99" cy="428.21" r="1.7" fill="#cc2a2a"/>
<circle cx="214.23" cy="419.45" r="1.7" fill="#cc2a2a"/>
<circle cx="233.55" cy="404.30" r="1.7" fill="#cc2a2a"/>
<circle cx="248.53" cy="391.26" r="1.7" fill="#cc2a2a"/>
<circle cx="263.52" cy="376.35" r="1.7" fill="#cc2a2a"/>
<circle cx="275.76" cy="363.16" r="1.7" fill="#cc2a2a"/>
<circle cx="295.07" cy="340.13" r="1.7" fill="#cc2a2a"/>
<polyline points="59.63,501.80 61.00,502.26 62.38,502.68 63.76,503.06 65.14,503.41 66.52,503.73 67.90,504.00 69.28,504.25 70.66,504.46 72.04,504.63 73.42,504.77 74.80,504.88 76.18,504.94 77.56,504.98 78.94,504.98 80.01,504.95 81.08,504.88 82.15,504.79 83.22,504.68 84.29,504.54 85.36,504.38 86.43,504.20 87.50,504.01 88.57,503.81 89.64,503.60 90.71,503.38 91.78,503.16 92.85,502.93 93.92,502.71 95.87,502.31 97.81,501.88 99.76,501.42 101.70,500.94 103.65,500.44 105.59,499.91 107.54,499.35 109.48,498.76 111.43,498.14 113.37,497.49 115.32,496.81 117.26,496.09 119.21,495.34 121.15,494.56 122.53,493.98 123.91,493.38 125.29,492.77 126.67,492.13 128.05,491.49 129.43,490.82 130.81,490.14 132.19,489.45 133.57,488.74 134.95,488.02 136.33,487.29 137.71,486.54 139.09,485.78 140.47,485.01 142.41,483.90 144.36,482.74 146.30,481.55 148.25,480.32 150.19,479.07 152.14,477.79 154.08,476.49 156.03,475.17 157.97,473.84 159.91,472.49 161.86,471.15 163.80,469.80 165.75,468.45 167.69,467.11 169.07,466.16 170.45,465.20 171.83,464.23 173.21,463.26 174.59,462.29 175.97,461.31 177.35,460.33 178.73,459.34 180.11,458.36 181.49,457.37 182.87,456.38 184.25,455.40 185.63,454.41 187.01,453.43 188.08,452.67 189.15,451.90 190.22,451.14 191.29,450.37 192.36,449.61 193.43,448.84 194.50,448.08 195.57,447.31 196.64,446.54 197.71,445.78 198.78,445.02 199.85,444.26 200.92,443.50 201.99,442.75 202.87,442.13 203.74,441.52 204.61,440.92 205.49,440.31 206.36,439.71 207.24,439.10 208.11,438.50 208.99,437.90 209.86,437.29 210.74,436.68 211.61,436.07 212.48,435.46 213.36,434.84 214.23,434.22 215.61,433.23 216.99,432.24 218.37,431.24 219.75,430.24 221.13,429.23 222.51,428.22 223.89,427.20 225.27,426.18 226.65,425.14 228.03,424.10 229.41,423.06 230.79,422.00 232.17,420.94 233.55,419.87 234.62,419.04 235.69,418.20 236.76,417.36 237.83,416.52 238.90,415.67 239.97,414.82 241.04,413.96 242.11,413.10 243.18,412.23 244.25,411.36 245.32,410.48 246.39,409.59 247.46,408.69 248.53,407.78 249.60,406.87 250.67,405.94 251.74,405.00 252.81,404.06 253.89,403.11 254.96,402.15 256.03,401.19 257.10,400.22 258.17,399.24 259.24,398.27 260.31,397.29 261.38,396.30 262.45,395.32 263.52,394.33 264.39,393.52 265.27,392.71 266.14,391.90 267.01,391.08 267.89,390.26 268.76,389.44 269.64,388.62 270.51,387.80 271.39,386.97 272.26,386.14 273.14,385.30 274.01,384.47 274.88,383.63 275.76,382.78 277.14,381.45 278.52,380.10 279.90,378.76 281.28,377.40 282.66,376.04 284.04,374.66 285.42,373.29 286.80,371.90 288.18,370.51 289.56,369.11 290.94,367.71 292.32,366.30 293.70,364.88 295.07,363.45" fill="none" stroke="#229922" stroke-width="1.2"/>
<circle cx="59.63" cy="501.80" r="1.7" fill="#229922"/>
<circle cx="78.94" cy="504.98" r="1.7" fill="#229922"/>
<circle cx="93.92" cy="502.71" r="1.7" fill="#229922"/>
<circle cx="121.15" cy="494.56" r="1.7" fill="#229922"/>
<circle cx="140.47" cy="485.01" r="1.7" fill="#229922"/>
<circle cx="167.69" cy="467.11" r="1.7" fill="#229922"/>
<circle cx="187.01" cy="453.43" r="1.7" fill="#229922"/>
<circle cx="201.99" cy="442.75" r="1.7" fill="#229922"/>
<circle cx="214.23" cy="434.22" r="1.7" fill="#229922"/>
<circle cx="233.55" cy="419.87" r="1.7" fill="#229922"/>
<circle cx="248.53" cy="407.78" r="1.7" fill="#229922"/>
<circle cx="263.52" cy="394.33" r="1.7" fill="#229922"/>
<circle cx="275.76" cy="382.78" r="1.7" fill="#229922"/>
<circle cx="295.07" cy="363.45" r="1.7" fill="#229922"/>
<polyline points="59.63,504.38 61.00,504.66 62.38,504.92 63.76,505.15 65.14,505.37 66.52,505.57 67.90,505.74 69.28,505.89 70.66,506.02 72.04,506.13 73.42,506.22 74.80,506.28 76.18,506.33 77.56,506.35 78.94,506.35 80.01,506.33 81.08,506.30 82.15,506.24 83.22,506.18 84.29,506.09 85.36,506.00 86.43,505.89 87.50,505.77 88.57,505.65 89.64,505.52 90.71,505.39 91.78,505.25 92.85,505.11 93.92,504.97 95.87,504.72 97.81,504.45 99.76,504.17 101.70,503.87 103.65,503.55 105.59,503.22 107.54,502.86 109.48,502.49 111.43,502.08 113.37,501.66 115.32,501.20 117.26,500.72 119.21,500.21 121.15,499.67 122.53,499.26 123.91,498.85 125.29,498.42 126.67,497.98 128.05,497.53 129.43,497.06 130.81,496.58 132.19,496.09 133.57,495.58 134.95,495.06 136.33,494.52 137.71,493.97 139.09,493.40 140.47,492.82 142.41,491.96 144.36,491.07 146.30,490.14 148.25,489.18 150.19,488.18 152.14,487.16 154.08,486.11 156.03,485.04 157.97,483.95 159.92,482.85 161.86,481.73 163.80,480.60 165.75,479.47 167.69,478.32 169.07,477.51 170.45,476.68 171.83,475.84 173.21,474.99 174.59,474.13 175.97,473.26 177.35,472.39 178.73,471.51 180.11,470.63 181.49,469.75 182.87,468.86 184.25,467.97 185.63,467.09 187.01,466.20 188.08,465.51 189.15,464.81 190.22,464.12 191.29,463.42 192.36,462.71 193.43,462.01 194.50,461.30 195.57,460.60 196.64,459.89 197.71,459.19 198.78,458.49 199.85,457.79 200.92,457.09 201.99,456.40 202.87,455.84 203.74,455.28 204.61,454.72 205.49,454.17 206.36,453.62 207.24,453.06 208.11,452.51 208.99,451.96 209.86,451.40 210.74,450.85 211.61,450.29 212.48,449.73 213.36,449.17 214.23,448.60 215.61,447.70 216.99,446.80 218.37,445.90 219.75,444.99 221.13,444.07 222.51,443.16 223.89,442.23 225.27,441.31 226.65,440.38 228.03,439.44 229.41,438.50 230.79,437.55 232.17,436.60 233.55,435.64 234.62,434.89 235.69,434.14 236.76,433.38 237.83,432.63 238.90,431.87 239.97,431.11 241.04,430.34 242.11,429.57 243.18,428.79 244.25,428.02 245.32,427.23 246.39,426.44 247.46,425.65 248.53,424.85 249.60,424.04 250.67,423.22 251.74,422.40 252.81,421.57 253.88,420.74 254.96,419.90 256.03,419.06 257.10,418.21 258.17,417.36 259.24,416.51 260.31,415.66 261.38,414.81 262.45,413.96 263.52,413.12 275.76,403.34 277.14,402.23 278.52,401.12 279.90,400.01 281.28,398.90 282.66,397.78 284.04,396.67 285.42,395.55 286.80,394.43 288.18,393.31 289.56,392.19 290.94,391.06 292.32,389.94 293.70,388.81 295.07,387.69" fill="none" stroke="#5858ff" stroke-width="1.2"/>
<circle cx="59.63" cy="504.38" r="1.7" fill="#5858ff"/>
<circle cx="78.94" cy="506.35" r="1.7" fill="#5858ff"/>
<circle cx="93.92" cy="504.97" r="1.7" fill="#5858ff"/>
<circle cx="121.15" cy="499.67" r="1.7" fill="#5858ff"/>
<circle cx="140.47" cy="492.82" r="1.7" fill="#5858ff"/>
<circle cx="167.69" cy="478.32" r="1.7" fill="#5858ff"/>
<circle cx="187.01" cy="466.20" r="1.7" fill="#5858ff"/>
<circle cx="201.99" cy="456.40" r="1.7" fill="#5858ff"/>
<circle cx="214.23" cy="448.60" r="1.7" fill="#5858ff"/>
<circle cx="233.55" cy="435.64" r="1.7" fill="#5858ff"/>
<circle cx="248.53" cy="424.85" r="1.7" fill="#5858ff"/>
<circle cx="263.52" cy="413.12" r="1.7" fill="#5858ff"/>
<circle cx="275.76" cy="403.34" r="1.7" fill="#5858ff"/>
<circle cx="295.07" cy="387.69" r="1.7" fill="#5858ff"/>
<polyline points="59.63,492.82 61.00,492.45 62.38,492.07 63.76,491.71 65.14,491.34 66.52,490.98 67.90,490.62 69.28,490.26 70.66,489.91 72.04,489.56 73.42,489.21 74.80,488.87 76.18,488.53 77.56,488.19 78.94,487.85 80.01,487.59 81.08,487.34 82.15,487.08 83.22,486.83 84.29,486.58 85.36,486.33 86.43,486.08 87.50,485.83 88.57,485.59 89.64,485.35 90.71,485.11 91.78,484.87 92.85,484.64 93.92,484.41 95.87,484.01 97.81,483.62 99.76,483.24 101.70,482.88 103.65,482.52 105.59,482.18 107.54,481.84 109.48,481.50 111.43,481.16 113.37,480.83 115.32,480.49 117.26,480.15 119.21,479.80 121.15,479.44 140.47,475.81 142.41,475.45 144.36,475.09 146.30,474.73 148.25,474.37 150.19,474.02 152.14,473.66 154.08,473.30 156.02,472.94 157.97,472.57 159.91,472.19 161.86,471.80 163.80,471.40 165.75,470.99 167.69,470.56 169.07,470.25 170.45,469.93 171.83,469.62 173.21,469.30 174.59,468.98 175.97,468.65 177.35,468.32 178.73,467.98 180.11,467.64 181.49,467.28 182.87,466.92 184.25,466.55 185.63,466.17 187.01,465.78 188.08,465.47 189.15,465.15 190.22,464.83 191.29,464.50 192.36,464.16 193.43,463.83 194.50,463.48 195.57,463.14 196.64,462.79 197.71,462.43 198.78,462.08 199.85,461.72 200.92,461.36 201.99,461.00 202.87,460.71 203.74,460.40 204.61,460.10 205.49,459.79 206.36,459.48 207.24,459.17 208.11,458.86 208.99,458.54 209.86,458.23 210.74,457.92 211.61,457.61 212.48,457.31 213.36,457.00 214.23,456.70 215.61,456.24 216.99,455.80 218.37,455.36 219.75,454.94 221.13,454.52 222.51,454.10 223.89,453.68 225.27,453.26 226.65,452.83 228.03,452.39 229.41,451.94 230.79,451.48 232.17,451.00 233.55,450.49 234.62,450.09 235.69,449.68 236.76,449.27 237.83,448.85 238.90,448.43 239.97,448.00 241.04,447.56 242.11,447.12 243.18,446.67 244.25,446.21 245.32,445.74 246.39,445.26 247.46,444.78 248.53,444.28 249.60,443.78 250.67,443.27 251.75,442.75 252.82,442.23 253.89,441.70 254.96,441.16 256.03,440.62 257.10,440.06 258.17,439.49 259.24,438.91 260.31,438.31 261.38,437.71 262.45,437.08 263.52,436.45 264.39,435.91 265.27,435.35 266.14,434.77 267.02,434.18 267.89,433.58 268.76,432.97 269.64,432.36 270.51,431.74 271.39,431.13 272.26,430.53 273.13,429.93 274.01,429.35 274.88,428.78 275.76,428.23 277.14,427.39 278.52,426.57 279.89,425.76 281.27,424.97 282.65,424.20 284.03,423.44 285.41,422.70 286.79,421.98 288.17,421.27 289.55,420.59 290.93,419.92 292.31,419.26 293.69,418.63 295.07,418.01" fill="none" stroke="#999" stroke-width="2" stroke-dasharray="4 2.6"/>
<rect x="32.40" y="299.40" width="289.90" height="208.90" fill="none" stroke="#404040" stroke-width="1.15"/>
<line x1="32.40" y1="508.30" x2="40.90" y2="508.30" stroke="#333" stroke-width="0.8"/>
<text x="30.40" y="511.60" text-anchor="end" style="font-family:'Liberation Sans',sans-serif;font-size:8.6px">0</text>
<line x1="32.40" y1="489.19" x2="40.90" y2="489.19" stroke="#333" stroke-width="0.8"/>
<text x="30.40" y="492.49" text-anchor="end" style="font-family:'Liberation Sans',sans-serif;font-size:8.6px">2</text>
<line x1="32.40" y1="470.08" x2="40.90" y2="470.08" stroke="#333" stroke-width="0.8"/>
<text x="30.40" y="473.38" text-anchor="end" style="font-family:'Liberation Sans',sans-serif;font-size:8.6px">4</text>
<line x1="32.40" y1="450.97" x2="40.90" y2="450.97" stroke="#333" stroke-width="0.8"/>
<text x="30.40" y="454.27" text-anchor="end" style="font-family:'Liberation Sans',sans-serif;font-size:8.6px">6</text>
<line x1="32.40" y1="431.86" x2="40.90" y2="431.86" stroke="#333" stroke-width="0.8"/>
<text x="30.40" y="435.16" text-anchor="end" style="font-family:'Liberation Sans',sans-serif;font-size:8.6px">8</text>
<line x1="32.40" y1="412.75" x2="40.90" y2="412.75" stroke="#333" stroke-width="0.8"/>
<text x="30.40" y="416.05" text-anchor="end" style="font-family:'Liberation Sans',sans-serif;font-size:8.6px">10</text>
<line x1="32.40" y1="393.64" x2="40.90" y2="393.64" stroke="#333" stroke-width="0.8"/>
<text x="30.40" y="396.94" text-anchor="end" style="font-family:'Liberation Sans',sans-serif;font-size:8.6px">12</text>
<line x1="32.40" y1="374.53" x2="40.90" y2="374.53" stroke="#333" stroke-width="0.8"/>
<text x="30.40" y="377.83" text-anchor="end" style="font-family:'Liberation Sans',sans-serif;font-size:8.6px">14</text>
<line x1="32.40" y1="355.42" x2="40.90" y2="355.42" stroke="#333" stroke-width="0.8"/>
<text x="30.40" y="358.72" text-anchor="end" style="font-family:'Liberation Sans',sans-serif;font-size:8.6px">16</text>
<line x1="32.40" y1="336.31" x2="40.90" y2="336.31" stroke="#333" stroke-width="0.8"/>
<text x="30.40" y="339.61" text-anchor="end" style="font-family:'Liberation Sans',sans-serif;font-size:8.6px">18</text>
<line x1="32.40" y1="317.20" x2="40.90" y2="317.20" stroke="#333" stroke-width="0.8"/>
<text x="30.40" y="320.50" text-anchor="end" style="font-family:'Liberation Sans',sans-serif;font-size:8.6px">20</text>
<line x1="32.50" y1="508.30" x2="32.50" y2="505.10" stroke="#444" stroke-width="0.9"/>
<line x1="47.50" y1="508.30" x2="47.50" y2="505.10" stroke="#444" stroke-width="0.9"/>
<line x1="59.50" y1="508.30" x2="59.50" y2="505.10" stroke="#444" stroke-width="0.9"/>
<line x1="69.50" y1="508.30" x2="69.50" y2="505.10" stroke="#444" stroke-width="0.9"/>
<line x1="78.50" y1="508.30" x2="78.50" y2="505.10" stroke="#444" stroke-width="0.9"/>
<line x1="86.50" y1="508.30" x2="86.50" y2="505.10" stroke="#444" stroke-width="0.9"/>
<line x1="93.50" y1="508.30" x2="93.50" y2="502.00" stroke="#444" stroke-width="0.9"/>
<line x1="140.50" y1="508.30" x2="140.50" y2="505.10" stroke="#444" stroke-width="0.9"/>
<line x1="167.50" y1="508.30" x2="167.50" y2="505.10" stroke="#444" stroke-width="0.9"/>
<line x1="187.50" y1="508.30" x2="187.50" y2="505.10" stroke="#444" stroke-width="0.9"/>
<line x1="201.50" y1="508.30" x2="201.50" y2="505.10" stroke="#444" stroke-width="0.9"/>
<line x1="214.50" y1="508.30" x2="214.50" y2="505.10" stroke="#444" stroke-width="0.9"/>
<line x1="224.50" y1="508.30" x2="224.50" y2="505.10" stroke="#444" stroke-width="0.9"/>
<line x1="233.50" y1="508.30" x2="233.50" y2="505.10" stroke="#444" stroke-width="0.9"/>
<line x1="241.50" y1="508.30" x2="241.50" y2="505.10" stroke="#444" stroke-width="0.9"/>
<line x1="248.50" y1="508.30" x2="248.50" y2="502.00" stroke="#444" stroke-width="0.9"/>
<line x1="295.50" y1="508.30" x2="295.50" y2="505.10" stroke="#444" stroke-width="0.9"/>
<line x1="322.50" y1="508.30" x2="322.50" y2="505.10" stroke="#444" stroke-width="0.9"/>
<text x="86.42" y="520.80" style="font-family:'Liberation Sans',sans-serif;font-size:8.6px">10</text>
<text x="95.12" y="516.50" style="font-family:'Liberation Sans',sans-serif;font-size:6.5px">&#8722;1</text>
<text x="248.53" y="520.80" text-anchor="middle" style="font-family:'Liberation Sans',sans-serif;font-size:8.6px">1</text>
<text x="177.35" y="528.10" text-anchor="middle" style="font-family:'Liberation Sans',sans-serif;font-size:9.3px">E (MeV)</text>
<text transform="translate(12.40,403.50) rotate(-90)" text-anchor="middle" style="font-family:'Liberation Sans',sans-serif;font-size:9.60px">MFP (cm)</text>
<rect x="32.40" y="299.40" width="162.90" height="39.00" fill="#fff" stroke="#555" stroke-width="1"/>
<line x1="36.80" y1="306.20" x2="55.60" y2="306.20" stroke="#000000" stroke-width="1.2"/>
<circle cx="46.20" cy="306.20" r="1.7" fill="#000000"/>
<text x="60.60" y="308.85" style="font-family:'Liberation Sans',sans-serif;font-size:7.35px">Pure HDPE</text>
<line x1="109.10" y1="306.20" x2="128.40" y2="306.20" stroke="#ff55ff" stroke-width="1.2"/>
<circle cx="118.75" cy="306.20" r="1.7" fill="#ff55ff"/>
<text x="133.00" y="308.85" style="font-family:'Liberation Sans',sans-serif;font-size:7.35px">10% TaS<tspan dy="2.65" style="font-size:5.14px">2</tspan></text>
<line x1="36.80" y1="319.40" x2="55.60" y2="319.40" stroke="#cc2a2a" stroke-width="1.2"/>
<circle cx="46.20" cy="319.40" r="1.7" fill="#cc2a2a"/>
<text x="60.60" y="322.05" style="font-family:'Liberation Sans',sans-serif;font-size:7.35px">20% TaS<tspan dy="2.65" style="font-size:5.14px">2</tspan></text>
<line x1="109.10" y1="319.40" x2="128.40" y2="319.40" stroke="#229922" stroke-width="1.2"/>
<circle cx="118.75" cy="319.40" r="1.7" fill="#229922"/>
<text x="133.00" y="322.05" style="font-family:'Liberation Sans',sans-serif;font-size:7.35px">35% TaS<tspan dy="2.65" style="font-size:5.14px">2</tspan></text>
<line x1="36.80" y1="332.60" x2="55.60" y2="332.60" stroke="#5858ff" stroke-width="1.2"/>
<circle cx="46.20" cy="332.60" r="1.7" fill="#5858ff"/>
<text x="60.60" y="335.25" style="font-family:'Liberation Sans',sans-serif;font-size:7.35px">50% TaS<tspan dy="2.65" style="font-size:5.14px">2</tspan></text>
<line x1="109.10" y1="332.60" x2="128.40" y2="332.60" stroke="#888" stroke-width="1.8" stroke-dasharray="3.4 2.9"/>
<text x="133.00" y="335.25" style="font-family:'Liberation Sans',sans-serif;font-size:7.35px">Concrete (XCOM)</text>
<text x="154.20" y="554.30" style="font-family:'Liberation Sans',sans-serif;font-weight:bold;font-size:13px">(c)</text><text class="serif" x="174.60" y="554.30" style="font-family:'Liberation Serif',serif;font-size:13px">MFP</text>
<line x1="403.00" y1="481.50" x2="684.50" y2="481.50" stroke="#888" stroke-width="1" stroke-dasharray="1 1"/>
<line x1="403.00" y1="455.50" x2="684.50" y2="455.50" stroke="#888" stroke-width="1" stroke-dasharray="1 1"/>
<line x1="403.00" y1="429.50" x2="684.50" y2="429.50" stroke="#888" stroke-width="1" stroke-dasharray="1 1"/>
<line x1="403.00" y1="403.50" x2="684.50" y2="403.50" stroke="#888" stroke-width="1" stroke-dasharray="1 1"/>
<line x1="403.00" y1="377.50" x2="684.50" y2="377.50" stroke="#888" stroke-width="1" stroke-dasharray="1 1"/>
<line x1="403.00" y1="350.50" x2="684.50" y2="350.50" stroke="#888" stroke-width="1" stroke-dasharray="1 1"/>
<line x1="403.00" y1="324.50" x2="684.50" y2="324.50" stroke="#888" stroke-width="1" stroke-dasharray="1 1"/>
<polyline points="421.73,459.91 423.11,459.57 424.49,459.24 425.88,458.91 427.26,458.59 428.64,458.27 430.02,457.95 431.40,457.64 432.78,457.33 434.16,457.03 435.54,456.73 436.92,456.43 438.30,456.14 439.68,455.85 441.06,455.57 442.13,455.36 443.20,455.15 444.27,454.94 445.34,454.75 446.41,454.55 447.48,454.36 448.55,454.16 449.62,453.97 450.69,453.78 451.76,453.58 452.83,453.39 453.90,453.19 454.98,452.98 456.05,452.77 457.99,452.37 459.94,451.98 461.88,451.57 463.83,451.17 465.77,450.75 467.72,450.33 469.66,449.90 471.61,449.46 473.55,449.01 475.50,448.54 477.44,448.07 479.39,447.58 481.34,447.08 483.28,446.57 484.66,446.19 486.04,445.82 487.42,445.43 488.80,445.05 490.18,444.65 491.56,444.25 492.94,443.85 494.32,443.44 495.70,443.02 497.08,442.59 498.46,442.16 499.84,441.71 501.22,441.26 502.60,440.80 504.55,440.14 506.49,439.46 508.44,438.77 510.39,438.06 512.33,437.34 514.28,436.60 516.22,435.85 518.17,435.08 520.11,434.30 522.06,433.50 524.00,432.68 525.95,431.85 527.89,431.00 529.84,430.13 531.22,429.51 532.60,428.87 533.98,428.23 535.36,427.58 536.74,426.93 538.12,426.26 539.50,425.59 540.88,424.90 542.26,424.21 543.64,423.52 545.02,422.81 546.40,422.10 547.78,421.38 549.16,420.65 550.23,420.08 551.30,419.50 552.37,418.92 553.44,418.34 554.52,417.75 555.59,417.16 556.66,416.56 557.73,415.96 558.80,415.35 559.87,414.74 560.94,414.12 562.01,413.49 563.08,412.85 564.15,412.21 565.02,411.69 565.90,411.16 566.77,410.62 567.65,410.09 568.52,409.55 569.40,409.00 570.27,408.45 571.15,407.90 572.02,407.34 572.90,406.78 573.77,406.21 574.65,405.63 575.52,405.05 576.40,404.45 577.78,403.51 579.16,402.55 580.54,401.57 581.92,400.58 583.30,399.58 584.68,398.56 586.06,397.52 587.44,396.48 588.82,395.42 590.20,394.34 591.58,393.26 592.96,392.15 594.34,391.04 595.72,389.91 596.79,389.03 597.86,388.15 598.93,387.26 600.00,386.36 601.07,385.46 602.14,384.54 603.22,383.62 604.29,382.69 605.36,381.74 606.43,380.79 607.50,379.81 608.57,378.83 609.64,377.83 610.71,376.81 611.78,375.77 612.85,374.72 613.92,373.66 614.99,372.58 616.06,371.49 617.13,370.38 618.20,369.27 619.27,368.14 620.34,367.00 621.42,365.85 622.49,364.68 623.56,363.51 624.63,362.33 625.70,361.13 626.57,360.15 627.45,359.16 628.32,358.17 629.20,357.16 630.07,356.15 630.95,355.14 631.82,354.11 632.70,353.08 633.57,352.04 634.44,350.99 635.32,349.92 636.19,348.85 637.07,347.77 637.94,346.68 639.32,344.93 640.71,343.16 642.09,341.37 643.47,339.55 644.85,337.71 646.23,335.84 647.61,333.96 648.99,332.04 650.37,330.11 651.75,328.15 653.13,326.17 654.51,324.16 655.89,322.14 657.27,320.08" fill="none" stroke="#000000" stroke-width="1.2"/>
<circle cx="421.73" cy="459.91" r="1.7" fill="#000000"/>
<circle cx="441.06" cy="455.57" r="1.7" fill="#000000"/>
<circle cx="456.05" cy="452.77" r="1.7" fill="#000000"/>
<circle cx="483.28" cy="446.57" r="1.7" fill="#000000"/>
<circle cx="502.60" cy="440.80" r="1.7" fill="#000000"/>
<circle cx="529.84" cy="430.13" r="1.7" fill="#000000"/>
<circle cx="549.16" cy="420.65" r="1.7" fill="#000000"/>
<circle cx="564.15" cy="412.21" r="1.7" fill="#000000"/>
<circle cx="576.40" cy="404.45" r="1.7" fill="#000000"/>
<circle cx="595.72" cy="389.91" r="1.7" fill="#000000"/>
<circle cx="610.71" cy="376.81" r="1.7" fill="#000000"/>
<circle cx="625.70" cy="361.13" r="1.7" fill="#000000"/>
<circle cx="637.94" cy="346.68" r="1.7" fill="#000000"/>
<circle cx="657.27" cy="320.08" r="1.7" fill="#000000"/>
<polyline points="421.73,488.81 423.11,489.92 424.49,490.94 425.87,491.88 427.25,492.73 428.63,493.48 430.01,494.15 431.39,494.73 432.77,495.22 434.15,495.62 435.53,495.94 436.91,496.16 438.30,496.30 439.68,496.34 441.06,496.30 442.13,496.18 443.20,495.98 444.27,495.70 445.34,495.34 446.41,494.93 447.48,494.47 448.55,493.97 449.62,493.43 450.69,492.88 451.76,492.31 452.83,491.73 453.91,491.17 454.98,490.62 456.05,490.10 457.99,489.15 459.94,488.16 461.88,487.12 463.83,486.05 465.77,484.94 467.72,483.81 469.66,482.65 471.61,481.47 473.56,480.27 475.50,479.06 477.45,477.84 479.39,476.62 481.34,475.40 483.28,474.19 484.66,473.32 486.04,472.44 487.42,471.56 488.80,470.67 490.18,469.77 491.56,468.86 492.94,467.95 494.32,467.04 495.70,466.13 497.08,465.22 498.46,464.31 499.84,463.40 501.22,462.50 502.60,461.60 504.55,460.34 506.49,459.08 508.44,457.82 510.39,456.55 512.33,455.29 514.28,454.03 516.22,452.77 518.17,451.52 520.11,450.26 522.06,449.01 524.00,447.77 525.95,446.52 527.89,445.28 529.84,444.04 531.22,443.17 532.60,442.30 533.98,441.44 535.36,440.57 536.74,439.71 538.12,438.85 539.50,437.99 540.88,437.13 542.26,436.27 543.64,435.41 545.02,434.54 546.40,433.68 547.78,432.81 549.16,431.93 550.23,431.25 551.30,430.58 552.37,429.90 553.44,429.22 554.51,428.54 555.59,427.85 556.66,427.17 557.73,426.49 558.80,425.80 559.87,425.11 560.94,424.42 562.01,423.73 563.08,423.03 564.15,422.33 565.02,421.76 565.90,421.18 566.77,420.61 567.65,420.04 568.52,419.47 569.40,418.89 570.27,418.31 571.15,417.73 572.02,417.15 572.90,416.56 573.77,415.97 574.65,415.37 575.52,414.76 576.40,414.15 577.78,413.18 579.16,412.20 580.54,411.20 581.92,410.20 583.30,409.18 584.68,408.16 586.06,407.12 587.44,406.07 588.82,405.01 590.20,403.94 591.58,402.86 592.96,401.77 594.34,400.67 595.72,399.55 596.79,398.68 597.86,397.81 598.93,396.93 600.00,396.05 601.07,395.16 602.14,394.26 603.21,393.36 604.29,392.44 605.36,391.52 606.43,390.59 607.50,389.64 608.57,388.69 609.64,387.72 610.71,386.73 611.78,385.73 612.85,384.72 613.92,383.70 614.99,382.66 616.06,381.61 617.13,380.55 618.20,379.48 619.27,378.41 620.34,377.32 621.41,376.22 622.48,375.12 623.56,374.00 624.63,372.88 625.70,371.75 626.57,370.83 627.45,369.89 628.32,368.96 629.20,368.02 630.07,367.07 630.95,366.11 631.82,365.15 632.69,364.19 633.57,363.21 634.44,362.23 635.32,361.24 636.19,360.25 637.07,359.24 637.94,358.23 639.32,356.62 640.70,354.98 642.08,353.33 643.47,351.66 644.85,349.98 646.23,348.27 647.61,346.55 648.99,344.81 650.37,343.05 651.75,341.27 653.13,339.47 654.51,337.66 655.89,335.83 657.27,333.98" fill="none" stroke="#ff55ff" stroke-width="1.2"/>
<circle cx="421.73" cy="488.81" r="1.7" fill="#ff55ff"/>
<circle cx="441.06" cy="496.30" r="1.7" fill="#ff55ff"/>
<circle cx="456.05" cy="490.10" r="1.7" fill="#ff55ff"/>
<circle cx="483.28" cy="474.19" r="1.7" fill="#ff55ff"/>
<circle cx="502.60" cy="461.60" r="1.7" fill="#ff55ff"/>
<circle cx="529.84" cy="444.04" r="1.7" fill="#ff55ff"/>
<circle cx="549.16" cy="431.93" r="1.7" fill="#ff55ff"/>
<circle cx="564.15" cy="422.33" r="1.7" fill="#ff55ff"/>
<circle cx="576.40" cy="414.15" r="1.7" fill="#ff55ff"/>
<circle cx="595.72" cy="399.55" r="1.7" fill="#ff55ff"/>
<circle cx="610.71" cy="386.73" r="1.7" fill="#ff55ff"/>
<circle cx="625.70" cy="371.75" r="1.7" fill="#ff55ff"/>
<circle cx="637.94" cy="358.23" r="1.7" fill="#ff55ff"/>
<circle cx="657.27" cy="333.98" r="1.7" fill="#ff55ff"/>
<polyline points="421.73,496.94 423.11,497.68 424.49,498.36 425.87,498.99 427.25,499.55 428.63,500.06 430.01,500.51 431.39,500.91 432.77,501.24 434.15,501.52 435.54,501.74 436.92,501.91 438.30,502.01 439.68,502.06 441.06,502.05 442.13,501.99 443.20,501.87 444.27,501.71 445.34,501.51 446.41,501.26 447.48,500.99 448.55,500.68 449.62,500.35 450.69,500.01 451.76,499.65 452.83,499.29 453.91,498.93 454.98,498.57 456.05,498.22 457.99,497.57 459.94,496.88 461.88,496.16 463.83,495.40 465.77,494.61 467.72,493.78 469.67,492.92 471.61,492.04 473.56,491.12 475.50,490.17 477.45,489.20 479.39,488.20 481.34,487.18 483.28,486.13 484.66,485.37 486.04,484.59 487.42,483.79 488.80,482.97 490.18,482.14 491.56,481.30 492.94,480.44 494.32,479.57 495.70,478.70 497.08,477.82 498.46,476.93 499.84,476.04 501.22,475.15 502.60,474.25 504.55,472.98 506.49,471.69 508.44,470.37 510.39,469.04 512.33,467.69 514.28,466.33 516.22,464.97 518.17,463.59 520.11,462.22 522.06,460.84 524.00,459.47 525.95,458.11 527.89,456.75 529.84,455.41 549.16,442.21 564.15,432.03 565.02,431.44 565.90,430.85 566.77,430.26 567.65,429.67 568.52,429.08 569.40,428.49 570.27,427.91 571.15,427.32 572.02,426.72 572.90,426.13 573.77,425.53 574.65,424.93 575.52,424.32 576.40,423.70 577.78,422.73 579.16,421.74 580.54,420.75 581.92,419.75 583.30,418.74 584.68,417.73 586.06,416.71 587.44,415.67 588.82,414.63 590.20,413.58 591.58,412.53 592.96,411.46 594.34,410.38 595.72,409.29 596.79,408.45 597.86,407.59 598.93,406.74 600.00,405.88 601.07,405.02 602.14,404.15 603.21,403.27 604.29,402.39 605.36,401.50 606.43,400.60 607.50,399.69 608.57,398.77 609.64,397.84 610.71,396.90 611.78,395.94 612.85,394.97 613.92,394.00 614.99,393.01 616.06,392.01 617.13,391.01 618.20,389.99 619.27,388.97 620.34,387.94 621.41,386.91 622.48,385.87 623.56,384.82 624.63,383.77 625.70,382.71 626.57,381.84 627.45,380.97 628.32,380.10 629.20,379.22 630.07,378.34 630.95,377.45 631.82,376.56 632.69,375.66 633.57,374.76 634.44,373.85 635.32,372.94 636.19,372.02 637.07,371.10 637.94,370.17 639.32,368.69 640.70,367.20 642.08,365.69 643.46,364.17 644.85,362.64 646.23,361.09 647.61,359.54 648.99,357.96 650.37,356.38 651.75,354.78 653.13,353.17 654.51,351.55 655.89,349.91 657.27,348.26" fill="none" stroke="#cc2a2a" stroke-width="1.2"/>
<circle cx="421.73" cy="496.94" r="1.7" fill="#cc2a2a"/>
<circle cx="441.06" cy="502.05" r="1.7" fill="#cc2a2a"/>
<circle cx="456.05" cy="498.22" r="1.7" fill="#cc2a2a"/>
<circle cx="483.28" cy="486.13" r="1.7" fill="#cc2a2a"/>
<circle cx="502.60" cy="474.25" r="1.7" fill="#cc2a2a"/>
<circle cx="529.84" cy="455.41" r="1.7" fill="#cc2a2a"/>
<circle cx="549.16" cy="442.21" r="1.7" fill="#cc2a2a"/>
<circle cx="564.15" cy="432.03" r="1.7" fill="#cc2a2a"/>
<circle cx="576.40" cy="423.70" r="1.7" fill="#cc2a2a"/>
<circle cx="595.72" cy="409.29" r="1.7" fill="#cc2a2a"/>
<circle cx="610.71" cy="396.90" r="1.7" fill="#cc2a2a"/>
<circle cx="625.70" cy="382.71" r="1.7" fill="#cc2a2a"/>
<circle cx="637.94" cy="370.17" r="1.7" fill="#cc2a2a"/>
<circle cx="657.27" cy="348.26" r="1.7" fill="#cc2a2a"/>
<polyline points="421.73,502.02 423.11,502.45 424.49,502.85 425.87,503.22 427.25,503.55 428.63,503.85 430.01,504.11 431.40,504.35 432.78,504.55 434.16,504.71 435.54,504.84 436.92,504.94 438.30,505.01 439.68,505.04 441.06,505.04 442.13,505.01 443.20,504.95 444.27,504.87 445.34,504.76 446.41,504.62 447.48,504.47 448.55,504.30 449.62,504.12 450.69,503.93 451.76,503.73 452.83,503.52 453.90,503.31 454.98,503.10 456.05,502.89 457.99,502.50 459.94,502.09 461.88,501.66 463.83,501.20 465.77,500.72 467.72,500.22 469.66,499.69 471.61,499.13 473.56,498.54 475.50,497.92 477.45,497.27 479.39,496.59 481.34,495.88 483.28,495.13 484.66,494.58 486.04,494.01 487.42,493.43 488.80,492.83 490.18,492.21 491.56,491.58 492.94,490.93 494.32,490.27 495.70,489.60 497.08,488.91 498.46,488.21 499.84,487.50 501.22,486.78 502.60,486.05 504.55,484.99 506.50,483.89 508.44,482.76 510.39,481.59 512.33,480.40 514.28,479.18 516.22,477.94 518.17,476.69 520.11,475.42 522.06,474.15 524.00,472.87 525.95,471.58 527.89,470.30 529.84,469.03 531.22,468.12 532.60,467.21 533.98,466.29 535.36,465.37 536.74,464.44 538.12,463.51 539.50,462.58 540.88,461.64 542.26,460.70 543.64,459.76 545.02,458.82 546.40,457.89 547.78,456.95 549.16,456.02 550.23,455.29 551.30,454.57 552.37,453.84 553.44,453.11 554.51,452.38 555.59,451.65 556.66,450.92 557.73,450.20 558.80,449.47 559.87,448.74 560.94,448.02 562.01,447.29 563.08,446.57 564.15,445.86 565.02,445.27 565.90,444.69 566.77,444.12 567.65,443.54 568.52,442.97 569.40,442.39 570.27,441.82 571.15,441.24 572.02,440.67 572.90,440.09 573.77,439.51 574.65,438.93 575.52,438.34 576.40,437.75 577.78,436.81 579.16,435.86 580.54,434.92 581.92,433.96 583.30,433.01 584.68,432.04 586.06,431.07 587.44,430.10 588.82,429.12 590.20,428.13 591.58,427.13 592.96,426.13 594.34,425.12 595.72,424.10 596.79,423.31 597.86,422.51 598.93,421.71 600.00,420.91 601.07,420.11 602.14,419.30 603.21,418.48 604.28,417.66 605.36,416.84 606.43,416.01 607.50,415.17 608.57,414.32 609.64,413.47 610.71,412.60 611.78,411.73 612.85,410.85 613.92,409.96 614.99,409.06 616.06,408.16 617.13,407.25 618.20,406.33 619.27,405.41 620.34,404.48 621.41,403.55 622.48,402.62 623.56,401.69 624.63,400.75 625.70,399.81 626.57,399.04 627.45,398.27 628.32,397.50 629.20,396.72 630.07,395.94 630.94,395.16 631.82,394.38 632.69,393.60 633.57,392.81 634.44,392.02 635.32,391.22 636.19,390.43 637.07,389.63 637.94,388.83 639.32,387.56 640.70,386.28 642.08,385.00 643.46,383.71 644.84,382.41 646.22,381.11 647.61,379.80 648.99,378.48 650.37,377.16 651.75,375.83 653.13,374.49 654.51,373.15 655.89,371.80 657.27,370.44" fill="none" stroke="#229922" stroke-width="1.2"/>
<circle cx="421.73" cy="502.02" r="1.7" fill="#229922"/>
<circle cx="441.06" cy="505.04" r="1.7" fill="#229922"/>
<circle cx="456.05" cy="502.89" r="1.7" fill="#229922"/>
<circle cx="483.28" cy="495.13" r="1.7" fill="#229922"/>
<circle cx="502.60" cy="486.05" r="1.7" fill="#229922"/>
<circle cx="529.84" cy="469.03" r="1.7" fill="#229922"/>
<circle cx="549.16" cy="456.02" r="1.7" fill="#229922"/>
<circle cx="564.15" cy="445.86" r="1.7" fill="#229922"/>
<circle cx="576.40" cy="437.75" r="1.7" fill="#229922"/>
<circle cx="595.72" cy="424.10" r="1.7" fill="#229922"/>
<circle cx="610.71" cy="412.60" r="1.7" fill="#229922"/>
<circle cx="625.70" cy="399.81" r="1.7" fill="#229922"/>
<circle cx="637.94" cy="388.83" r="1.7" fill="#229922"/>
<circle cx="657.27" cy="370.44" r="1.7" fill="#229922"/>
<polyline points="421.73,504.47 423.11,504.73 424.49,504.98 425.87,505.21 427.25,505.42 428.64,505.60 430.02,505.77 431.40,505.91 432.78,506.03 434.16,506.14 435.54,506.22 436.92,506.28 438.30,506.33 439.68,506.35 441.06,506.35 442.13,506.33 443.20,506.30 444.27,506.25 445.34,506.18 446.41,506.10 447.48,506.01 448.55,505.91 449.62,505.80 450.69,505.68 451.76,505.56 452.83,505.43 453.90,505.30 454.98,505.17 456.05,505.04 457.99,504.79 459.94,504.54 461.88,504.27 463.83,503.99 465.77,503.69 467.72,503.37 469.66,503.03 471.61,502.67 473.56,502.29 475.50,501.88 477.45,501.45 479.39,500.99 481.34,500.51 483.28,499.99 484.66,499.60 486.04,499.21 487.42,498.80 488.80,498.38 490.18,497.95 491.56,497.51 492.94,497.05 494.32,496.58 495.70,496.10 497.08,495.60 498.46,495.09 499.84,494.57 501.22,494.03 502.60,493.47 504.55,492.66 506.50,491.81 508.44,490.93 510.39,490.01 512.33,489.07 514.28,488.09 516.22,487.10 518.17,486.08 520.11,485.05 522.06,484.00 524.00,482.93 525.95,481.86 527.89,480.78 529.84,479.69 531.22,478.91 532.60,478.12 533.98,477.33 535.36,476.52 536.74,475.70 538.12,474.88 539.50,474.05 540.88,473.22 542.26,472.38 543.64,471.54 545.02,470.69 546.40,469.85 547.78,469.00 549.16,468.16 550.23,467.50 551.30,466.84 552.37,466.18 553.44,465.51 554.51,464.85 555.59,464.18 556.66,463.51 557.73,462.83 558.80,462.16 559.87,461.50 560.94,460.83 562.01,460.16 563.08,459.50 564.15,458.84 565.02,458.31 565.90,457.78 566.77,457.25 567.65,456.72 568.52,456.19 569.40,455.67 570.27,455.14 571.15,454.62 572.02,454.09 572.90,453.56 573.77,453.03 574.65,452.50 575.52,451.96 576.40,451.42 577.78,450.57 579.16,449.71 580.54,448.85 581.92,447.99 583.30,447.12 584.68,446.25 586.06,445.37 587.44,444.49 588.82,443.60 590.20,442.71 591.58,441.82 592.96,440.91 594.34,440.01 595.72,439.09 596.79,438.38 597.86,437.67 598.93,436.95 600.00,436.23 601.07,435.51 602.14,434.79 603.21,434.06 604.28,433.32 605.36,432.59 606.43,431.85 607.50,431.10 608.57,430.35 609.64,429.59 610.71,428.83 611.78,428.06 612.85,427.29 613.92,426.51 614.99,425.72 616.06,424.92 617.13,424.13 618.20,423.33 619.27,422.52 620.34,421.72 621.41,420.91 622.48,420.10 623.55,419.29 624.63,418.48 625.70,417.68 637.94,408.38 639.32,407.32 640.70,406.27 642.08,405.21 643.46,404.15 644.84,403.09 646.22,402.03 647.60,400.97 648.98,399.90 650.36,398.84 651.74,397.77 653.12,396.70 654.51,395.64 655.89,394.56 657.27,393.49" fill="none" stroke="#5858ff" stroke-width="1.2"/>
<circle cx="421.73" cy="504.47" r="1.7" fill="#5858ff"/>
<circle cx="441.06" cy="506.35" r="1.7" fill="#5858ff"/>
<circle cx="456.05" cy="505.04" r="1.7" fill="#5858ff"/>
<circle cx="483.28" cy="499.99" r="1.7" fill="#5858ff"/>
<circle cx="502.60" cy="493.47" r="1.7" fill="#5858ff"/>
<circle cx="529.84" cy="479.69" r="1.7" fill="#5858ff"/>
<circle cx="549.16" cy="468.16" r="1.7" fill="#5858ff"/>
<circle cx="564.15" cy="458.84" r="1.7" fill="#5858ff"/>
<circle cx="576.40" cy="451.42" r="1.7" fill="#5858ff"/>
<circle cx="595.72" cy="439.09" r="1.7" fill="#5858ff"/>
<circle cx="610.71" cy="428.83" r="1.7" fill="#5858ff"/>
<circle cx="625.70" cy="417.68" r="1.7" fill="#5858ff"/>
<circle cx="637.94" cy="408.38" r="1.7" fill="#5858ff"/>
<circle cx="657.27" cy="393.49" r="1.7" fill="#5858ff"/>
<polyline points="421.73,493.48 423.11,493.12 424.49,492.77 425.87,492.42 427.26,492.07 428.64,491.73 430.02,491.38 431.40,491.04 432.78,490.71 434.16,490.38 435.54,490.05 436.92,489.72 438.30,489.39 439.68,489.07 441.06,488.75 442.13,488.51 443.20,488.26 444.27,488.02 445.34,487.78 446.41,487.54 447.48,487.30 448.55,487.07 449.62,486.83 450.69,486.60 451.76,486.37 452.83,486.15 453.90,485.92 454.98,485.70 456.05,485.48 457.99,485.10 459.94,484.73 461.88,484.37 463.83,484.02 465.77,483.69 467.72,483.36 469.66,483.03 471.61,482.71 473.55,482.39 475.50,482.07 477.44,481.75 479.39,481.43 481.34,481.10 483.28,480.76 502.60,477.30 504.55,476.96 506.49,476.61 508.44,476.27 510.39,475.93 512.33,475.60 514.28,475.26 516.22,474.92 518.17,474.57 520.11,474.22 522.06,473.86 524.00,473.49 525.95,473.11 527.89,472.71 529.84,472.31 531.22,472.01 532.60,471.71 533.98,471.41 535.36,471.11 536.74,470.80 538.12,470.49 539.50,470.18 540.88,469.86 542.26,469.53 543.64,469.19 545.02,468.85 546.40,468.50 547.78,468.13 549.16,467.76 550.23,467.47 551.30,467.16 552.37,466.86 553.44,466.54 554.52,466.23 555.59,465.90 556.66,465.58 557.73,465.25 558.80,464.92 559.87,464.58 560.94,464.24 562.01,463.90 563.08,463.56 564.15,463.22 565.02,462.94 565.90,462.65 566.77,462.36 567.65,462.07 568.52,461.77 569.40,461.48 570.27,461.18 571.15,460.88 572.02,460.58 572.90,460.29 573.77,459.99 574.65,459.70 575.52,459.41 576.40,459.13 577.78,458.69 579.16,458.27 580.54,457.85 581.92,457.45 583.30,457.05 584.68,456.65 586.06,456.25 587.44,455.85 588.82,455.45 590.20,455.03 591.58,454.60 592.96,454.16 594.34,453.70 595.72,453.22 596.79,452.84 597.86,452.45 598.93,452.06 600.00,451.66 601.07,451.26 602.14,450.85 603.22,450.44 604.29,450.02 605.36,449.59 606.43,449.15 607.50,448.70 608.57,448.25 609.64,447.79 610.71,447.32 611.78,446.84 612.85,446.35 613.92,445.86 614.99,445.37 616.06,444.86 617.13,444.35 618.21,443.83 619.28,443.30 620.35,442.76 621.42,442.21 622.49,441.64 623.56,441.06 624.63,440.47 625.70,439.86 626.57,439.35 627.45,438.82 628.32,438.27 629.20,437.71 630.07,437.14 630.95,436.56 631.82,435.97 632.69,435.39 633.57,434.81 634.44,434.23 635.32,433.67 636.19,433.11 637.07,432.57 637.94,432.05 639.32,431.25 640.70,430.47 642.08,429.70 643.46,428.95 644.84,428.21 646.22,427.50 647.60,426.79 648.98,426.11 650.36,425.44 651.74,424.78 653.12,424.14 654.50,423.52 655.88,422.92 657.27,422.33" fill="none" stroke="#999" stroke-width="2" stroke-dasharray="4 2.6"/>
<rect x="394.50" y="299.40" width="290.00" height="208.80" fill="none" stroke="#404040" stroke-width="1.15"/>
<line x1="394.50" y1="508.20" x2="403.00" y2="508.20" stroke="#333" stroke-width="0.8"/>
<text x="392.50" y="511.50" text-anchor="end" style="font-family:'Liberation Sans',sans-serif;font-size:8.6px">0</text>
<line x1="394.50" y1="481.98" x2="403.00" y2="481.98" stroke="#333" stroke-width="0.8"/>
<text x="392.50" y="485.28" text-anchor="end" style="font-family:'Liberation Sans',sans-serif;font-size:8.6px">2</text>
<line x1="394.50" y1="455.76" x2="403.00" y2="455.76" stroke="#333" stroke-width="0.8"/>
<text x="392.50" y="459.06" text-anchor="end" style="font-family:'Liberation Sans',sans-serif;font-size:8.6px">4</text>
<line x1="394.50" y1="429.54" x2="403.00" y2="429.54" stroke="#333" stroke-width="0.8"/>
<text x="392.50" y="432.84" text-anchor="end" style="font-family:'Liberation Sans',sans-serif;font-size:8.6px">6</text>
<line x1="394.50" y1="403.32" x2="403.00" y2="403.32" stroke="#333" stroke-width="0.8"/>
<text x="392.50" y="406.62" text-anchor="end" style="font-family:'Liberation Sans',sans-serif;font-size:8.6px">8</text>
<line x1="394.50" y1="377.10" x2="403.00" y2="377.10" stroke="#333" stroke-width="0.8"/>
<text x="392.50" y="380.40" text-anchor="end" style="font-family:'Liberation Sans',sans-serif;font-size:8.6px">10</text>
<line x1="394.50" y1="350.88" x2="403.00" y2="350.88" stroke="#333" stroke-width="0.8"/>
<text x="392.50" y="354.18" text-anchor="end" style="font-family:'Liberation Sans',sans-serif;font-size:8.6px">12</text>
<line x1="394.50" y1="324.66" x2="403.00" y2="324.66" stroke="#333" stroke-width="0.8"/>
<text x="392.50" y="327.96" text-anchor="end" style="font-family:'Liberation Sans',sans-serif;font-size:8.6px">14</text>
<line x1="394.50" y1="508.20" x2="394.50" y2="505.00" stroke="#444" stroke-width="0.9"/>
<line x1="409.50" y1="508.20" x2="409.50" y2="505.00" stroke="#444" stroke-width="0.9"/>
<line x1="421.50" y1="508.20" x2="421.50" y2="505.00" stroke="#444" stroke-width="0.9"/>
<line x1="432.50" y1="508.20" x2="432.50" y2="505.00" stroke="#444" stroke-width="0.9"/>
<line x1="441.50" y1="508.20" x2="441.50" y2="505.00" stroke="#444" stroke-width="0.9"/>
<line x1="448.50" y1="508.20" x2="448.50" y2="505.00" stroke="#444" stroke-width="0.9"/>
<line x1="456.50" y1="508.20" x2="456.50" y2="501.90" stroke="#444" stroke-width="0.9"/>
<line x1="502.50" y1="508.20" x2="502.50" y2="505.00" stroke="#444" stroke-width="0.9"/>
<line x1="529.50" y1="508.20" x2="529.50" y2="505.00" stroke="#444" stroke-width="0.9"/>
<line x1="549.50" y1="508.20" x2="549.50" y2="505.00" stroke="#444" stroke-width="0.9"/>
<line x1="564.50" y1="508.20" x2="564.50" y2="505.00" stroke="#444" stroke-width="0.9"/>
<line x1="576.50" y1="508.20" x2="576.50" y2="505.00" stroke="#444" stroke-width="0.9"/>
<line x1="586.50" y1="508.20" x2="586.50" y2="505.00" stroke="#444" stroke-width="0.9"/>
<line x1="595.50" y1="508.20" x2="595.50" y2="505.00" stroke="#444" stroke-width="0.9"/>
<line x1="603.50" y1="508.20" x2="603.50" y2="505.00" stroke="#444" stroke-width="0.9"/>
<line x1="610.50" y1="508.20" x2="610.50" y2="501.90" stroke="#444" stroke-width="0.9"/>
<line x1="657.50" y1="508.20" x2="657.50" y2="505.00" stroke="#444" stroke-width="0.9"/>
<line x1="684.50" y1="508.20" x2="684.50" y2="505.00" stroke="#444" stroke-width="0.9"/>
<text x="448.55" y="520.70" style="font-family:'Liberation Sans',sans-serif;font-size:8.6px">10</text>
<text x="457.25" y="516.40" style="font-family:'Liberation Sans',sans-serif;font-size:6.5px">&#8722;1</text>
<text x="610.71" y="520.70" text-anchor="middle" style="font-family:'Liberation Sans',sans-serif;font-size:8.6px">1</text>
<text x="539.50" y="528.00" text-anchor="middle" style="font-family:'Liberation Sans',sans-serif;font-size:9.3px">E (MeV)</text>
<text transform="translate(373.80,404.00) rotate(-90)" text-anchor="middle" style="font-family:'Liberation Sans',sans-serif;font-size:9.60px">HVL (cm)</text>
<rect x="394.50" y="299.40" width="162.80" height="39.30" fill="#fff" stroke="#555" stroke-width="1"/>
<line x1="399.20" y1="306.10" x2="418.90" y2="306.10" stroke="#000000" stroke-width="1.2"/>
<circle cx="409.05" cy="306.10" r="1.7" fill="#000000"/>
<text x="423.30" y="308.75" style="font-family:'Liberation Sans',sans-serif;font-size:7.35px">Pure HDPE</text>
<line x1="471.40" y1="306.10" x2="491.00" y2="306.10" stroke="#ff55ff" stroke-width="1.2"/>
<circle cx="481.20" cy="306.10" r="1.7" fill="#ff55ff"/>
<text x="495.80" y="308.75" style="font-family:'Liberation Sans',sans-serif;font-size:7.35px">10% TaS<tspan dy="2.65" style="font-size:5.14px">2</tspan></text>
<line x1="399.20" y1="319.20" x2="418.90" y2="319.20" stroke="#cc2a2a" stroke-width="1.2"/>
<circle cx="409.05" cy="319.20" r="1.7" fill="#cc2a2a"/>
<text x="423.30" y="321.85" style="font-family:'Liberation Sans',sans-serif;font-size:7.35px">20% TaS<tspan dy="2.65" style="font-size:5.14px">2</tspan></text>
<line x1="471.40" y1="319.20" x2="491.00" y2="319.20" stroke="#229922" stroke-width="1.2"/>
<circle cx="481.20" cy="319.20" r="1.7" fill="#229922"/>
<text x="495.80" y="321.85" style="font-family:'Liberation Sans',sans-serif;font-size:7.35px">35% TaS<tspan dy="2.65" style="font-size:5.14px">2</tspan></text>
<line x1="399.20" y1="332.40" x2="418.90" y2="332.40" stroke="#5858ff" stroke-width="1.2"/>
<circle cx="409.05" cy="332.40" r="1.7" fill="#5858ff"/>
<text x="423.30" y="335.05" style="font-family:'Liberation Sans',sans-serif;font-size:7.35px">50% TaS<tspan dy="2.65" style="font-size:5.14px">2</tspan></text>
<line x1="471.40" y1="332.40" x2="491.00" y2="332.40" stroke="#888" stroke-width="1.8" stroke-dasharray="3.4 2.9"/>
<text x="495.80" y="335.05" style="font-family:'Liberation Sans',sans-serif;font-size:7.35px">Concrete (XCOM)</text>
<text x="515.50" y="554.30" style="font-family:'Liberation Sans',sans-serif;font-weight:bold;font-size:13px">(d)</text><text class="serif" x="536.70" y="554.30" style="font-family:'Liberation Serif',serif;font-size:13px">HVL</text>
</svg>
</body></html>
